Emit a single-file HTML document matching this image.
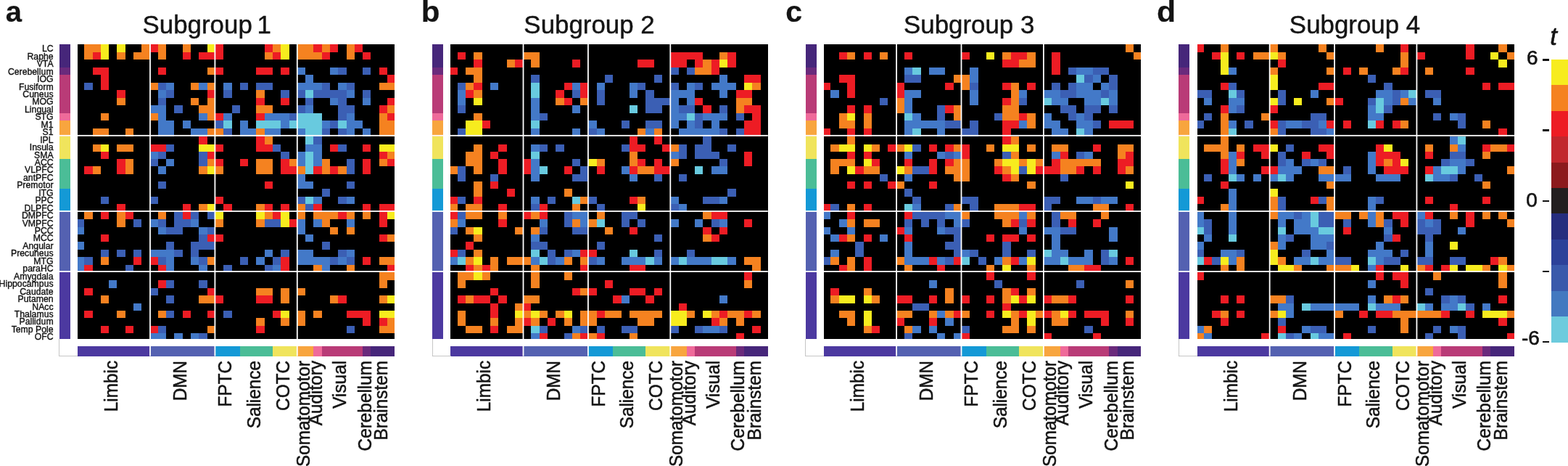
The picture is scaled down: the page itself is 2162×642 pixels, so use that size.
<!DOCTYPE html>
<html lang="en"><head><meta charset="utf-8"><title>Subgroup connectivity heatmaps</title>
<style>
html,body{margin:0;padding:0;background:#fff;overflow:hidden;}
svg{display:block;}
text{font-family:"Liberation Sans",Arial,Helvetica,sans-serif;fill:#141414;stroke:#141414;stroke-width:0.4px;stroke-linejoin:round;}
.ti{stroke-width:0.45px;}
.cl{stroke-width:0.55px;}
.rl{stroke-width:0.42px;}
.cb,.cbt{stroke-width:0.6px;}
.pl{stroke-width:0.2px;}
.pl{font-weight:bold;font-size:40.5px;}
.ti{font-size:35px;}
.t1{word-spacing:-3px;}
.rl{font-size:13.7px;}
.cl{font-size:25.7px;}
.cb{font-size:28px;}
.cbt{font-size:35px;font-style:italic;}
.Y{fill:#f7ec1e}.O{fill:#f58220}.R{fill:#ed1c24}.D{fill:#c1272d}.b{fill:#3b5fb4}.B{fill:#4379c8}.C{fill:#68cadf}</style></head>
<body>
<svg width="2162" height="642" viewBox="0 0 2162 642" shape-rendering="crispEdges">
<rect width="2162" height="642" fill="#fff"/>
<g id="panel-a">
<text class="pl" transform="translate(7.8 30) scale(0.99 1)">a</text>
<text class="ti t1" transform="translate(285.2 46.3) scale(0.997 1)" text-anchor="middle">Subgroup 1</text>
<rect x="81.5" y="61" width="15" height="31.53" fill="#46267a"/>
<rect x="81.5" y="92.53" width="15" height="10.51" fill="#6a2a7c"/>
<rect x="81.5" y="103.04" width="15" height="52.55" fill="#b93b77"/>
<rect x="81.5" y="155.59" width="15" height="10.51" fill="#ef6a9a"/>
<rect x="81.5" y="166.1" width="15" height="21.4" fill="#f8a53e"/>
<rect x="81.5" y="187.5" width="15" height="31.62" fill="#f0e45c"/>
<rect x="81.5" y="219.12" width="15" height="41.24" fill="#4bbd97"/>
<rect x="81.5" y="260.36" width="15" height="31.29" fill="#1499d6"/>
<rect x="81.5" y="291.65" width="15" height="83.25" fill="#5461b1"/>
<rect x="81.5" y="374.9" width="15" height="91.8" fill="#4c39a0"/>
<rect x="106.9" y="477.3" width="99.71" height="13.2" fill="#4c39a0"/>
<rect x="206.61" y="477.3" width="90.32" height="13.2" fill="#5461b1"/>
<rect x="296.93" y="477.3" width="33.87" height="13.2" fill="#1499d6"/>
<rect x="330.8" y="477.3" width="45.16" height="13.2" fill="#4bbd97"/>
<rect x="375.96" y="477.3" width="33.87" height="13.2" fill="#f0e45c"/>
<rect x="409.83" y="477.3" width="22.58" height="13.2" fill="#f8a53e"/>
<rect x="432.41" y="477.3" width="11.29" height="13.2" fill="#ef6a9a"/>
<rect x="443.7" y="477.3" width="56.45" height="13.2" fill="#b93b77"/>
<rect x="500.15" y="477.3" width="11.29" height="13.2" fill="#6a2a7c"/>
<rect x="511.44" y="477.3" width="32.86" height="13.2" fill="#46267a"/>
<path d="M81.6 466.7V490.6H107" fill="none" stroke="#b8b8b8" stroke-width="0.8"/>
<rect x="106.9" y="60.8" width="437.4" height="405.9" fill="#000"/>
<rect class="O" x="116.29" y="61" width="22.58" height="10.51"/>
<rect class="Y" x="138.87" y="61" width="11.29" height="10.51"/>
<rect class="Y" x="161.45" y="61" width="11.29" height="10.51"/>
<rect class="O" x="195.32" y="61" width="11.29" height="10.51"/>
<rect class="R" x="206.61" y="61" width="11.29" height="10.51"/>
<rect class="O" x="217.9" y="61" width="11.29" height="10.51"/>
<rect class="O" x="251.77" y="61" width="11.29" height="10.51"/>
<rect class="Y" x="285.64" y="61" width="11.29" height="10.51"/>
<rect class="R" x="296.93" y="61" width="11.29" height="10.51"/>
<rect class="R" x="364.67" y="61" width="11.29" height="10.51"/>
<rect class="O" x="375.96" y="61" width="11.29" height="10.51"/>
<rect class="Y" x="387.25" y="61" width="11.29" height="10.51"/>
<rect class="O" x="409.83" y="61" width="22.58" height="10.51"/>
<rect class="R" x="432.41" y="61" width="11.29" height="10.51"/>
<rect class="O" x="443.7" y="61" width="11.29" height="10.51"/>
<rect class="R" x="454.99" y="61" width="11.29" height="10.51"/>
<rect class="O" x="477.57" y="61" width="11.29" height="10.51"/>
<rect class="R" x="488.86" y="61" width="11.29" height="10.51"/>
<rect class="O" x="116.29" y="71.51" width="11.29" height="10.51"/>
<rect class="R" x="127.58" y="71.51" width="11.29" height="10.51"/>
<rect class="Y" x="138.87" y="71.51" width="11.29" height="10.51"/>
<rect class="O" x="161.45" y="71.51" width="11.29" height="10.51"/>
<rect class="O" x="184.03" y="71.51" width="22.58" height="10.51"/>
<rect class="O" x="217.9" y="71.51" width="11.29" height="10.51"/>
<rect class="R" x="251.77" y="71.51" width="11.29" height="10.51"/>
<rect class="R" x="274.35" y="71.51" width="33.87" height="10.51"/>
<rect class="O" x="364.67" y="71.51" width="11.29" height="10.51"/>
<rect class="R" x="375.96" y="71.51" width="11.29" height="10.51"/>
<rect class="Y" x="387.25" y="71.51" width="11.29" height="10.51"/>
<rect class="O" x="409.83" y="71.51" width="33.87" height="10.51"/>
<rect class="R" x="443.7" y="71.51" width="11.29" height="10.51"/>
<rect class="O" x="477.57" y="71.51" width="11.29" height="10.51"/>
<rect class="R" x="500.15" y="71.51" width="11.29" height="10.51"/>
<rect class="R" x="127.58" y="92.53" width="22.58" height="10.51"/>
<rect class="R" x="217.9" y="92.53" width="11.29" height="10.51"/>
<rect class="O" x="285.64" y="92.53" width="11.29" height="10.51"/>
<rect class="R" x="296.93" y="92.53" width="11.29" height="10.51"/>
<rect class="R" x="353.38" y="92.53" width="22.58" height="10.51"/>
<rect class="R" x="387.25" y="92.53" width="11.29" height="10.51"/>
<rect class="B" x="409.83" y="92.53" width="11.29" height="10.51"/>
<rect class="B" x="454.99" y="92.53" width="11.29" height="10.51"/>
<rect class="b" x="466.28" y="92.53" width="11.29" height="10.51"/>
<rect class="b" x="500.15" y="92.53" width="11.29" height="10.51"/>
<rect class="R" x="522.73" y="92.53" width="11.29" height="10.51"/>
<rect class="R" x="138.87" y="103.04" width="11.29" height="10.51"/>
<rect class="B" x="421.12" y="103.04" width="11.29" height="10.51"/>
<rect class="R" x="534.02" y="103.04" width="10.28" height="10.51"/>
<rect class="b" x="116.29" y="113.55" width="11.29" height="10.51"/>
<rect class="R" x="138.87" y="113.55" width="11.29" height="10.51"/>
<rect class="O" x="206.61" y="113.55" width="11.29" height="10.51"/>
<rect class="b" x="217.9" y="113.55" width="11.29" height="10.51"/>
<rect class="B" x="229.19" y="113.55" width="11.29" height="10.51"/>
<rect class="O" x="263.06" y="113.55" width="11.29" height="10.51"/>
<rect class="B" x="274.35" y="113.55" width="11.29" height="10.51"/>
<rect class="O" x="285.64" y="113.55" width="11.29" height="10.51"/>
<rect class="B" x="308.22" y="113.55" width="11.29" height="10.51"/>
<rect class="b" x="330.8" y="113.55" width="11.29" height="10.51"/>
<rect class="b" x="353.38" y="113.55" width="22.58" height="10.51"/>
<rect class="B" x="409.83" y="113.55" width="33.87" height="10.51"/>
<rect class="b" x="443.7" y="113.55" width="11.29" height="10.51"/>
<rect class="B" x="466.28" y="113.55" width="11.29" height="10.51"/>
<rect class="b" x="477.57" y="113.55" width="11.29" height="10.51"/>
<rect class="O" x="522.73" y="113.55" width="21.57" height="10.51"/>
<rect class="R" x="161.45" y="124.06" width="11.29" height="10.51"/>
<rect class="B" x="217.9" y="124.06" width="11.29" height="10.51"/>
<rect class="b" x="229.19" y="124.06" width="11.29" height="10.51"/>
<rect class="R" x="285.64" y="124.06" width="11.29" height="10.51"/>
<rect class="b" x="308.22" y="124.06" width="11.29" height="10.51"/>
<rect class="O" x="353.38" y="124.06" width="11.29" height="10.51"/>
<rect class="b" x="387.25" y="124.06" width="11.29" height="10.51"/>
<rect class="b" x="409.83" y="124.06" width="11.29" height="10.51"/>
<rect class="C" x="421.12" y="124.06" width="11.29" height="10.51"/>
<rect class="b" x="432.41" y="124.06" width="45.16" height="10.51"/>
<rect class="B" x="477.57" y="124.06" width="11.29" height="10.51"/>
<rect class="b" x="500.15" y="124.06" width="11.29" height="10.51"/>
<rect class="O" x="161.45" y="134.57" width="11.29" height="10.51"/>
<rect class="b" x="217.9" y="134.57" width="11.29" height="10.51"/>
<rect class="O" x="263.06" y="134.57" width="11.29" height="10.51"/>
<rect class="O" x="285.64" y="134.57" width="11.29" height="10.51"/>
<rect class="R" x="353.38" y="134.57" width="11.29" height="10.51"/>
<rect class="R" x="387.25" y="134.57" width="11.29" height="10.51"/>
<rect class="b" x="421.12" y="134.57" width="11.29" height="10.51"/>
<rect class="B" x="454.99" y="134.57" width="11.29" height="10.51"/>
<rect class="b" x="466.28" y="134.57" width="11.29" height="10.51"/>
<rect class="B" x="500.15" y="134.57" width="11.29" height="10.51"/>
<rect class="R" x="534.02" y="134.57" width="10.28" height="10.51"/>
<rect class="B" x="206.61" y="145.08" width="22.58" height="10.51"/>
<rect class="b" x="240.48" y="145.08" width="11.29" height="10.51"/>
<rect class="O" x="274.35" y="145.08" width="22.58" height="10.51"/>
<rect class="b" x="319.51" y="145.08" width="11.29" height="10.51"/>
<rect class="O" x="353.38" y="145.08" width="22.58" height="10.51"/>
<rect class="b" x="409.83" y="145.08" width="11.29" height="10.51"/>
<rect class="B" x="421.12" y="145.08" width="11.29" height="10.51"/>
<rect class="b" x="466.28" y="145.08" width="22.58" height="10.51"/>
<rect class="R" x="522.73" y="145.08" width="11.29" height="10.51"/>
<rect class="O" x="534.02" y="145.08" width="10.28" height="10.51"/>
<rect class="O" x="138.87" y="155.59" width="11.29" height="10.51"/>
<rect class="O" x="206.61" y="155.59" width="11.29" height="10.51"/>
<rect class="B" x="217.9" y="155.59" width="11.29" height="10.51"/>
<rect class="B" x="274.35" y="155.59" width="11.29" height="10.51"/>
<rect class="O" x="285.64" y="155.59" width="11.29" height="10.51"/>
<rect class="R" x="296.93" y="155.59" width="11.29" height="10.51"/>
<rect class="B" x="308.22" y="155.59" width="11.29" height="10.51"/>
<rect class="R" x="353.38" y="155.59" width="11.29" height="10.51"/>
<rect class="B" x="364.67" y="155.59" width="33.87" height="10.51"/>
<rect class="b" x="398.54" y="155.59" width="11.29" height="10.51"/>
<rect class="C" x="409.83" y="155.59" width="33.87" height="10.51"/>
<rect class="b" x="466.28" y="155.59" width="11.29" height="10.51"/>
<rect class="B" x="477.57" y="155.59" width="11.29" height="10.51"/>
<rect class="O" x="522.73" y="155.59" width="11.29" height="10.51"/>
<rect class="R" x="534.02" y="155.59" width="10.28" height="10.51"/>
<rect class="B" x="217.9" y="166.1" width="22.58" height="10.51"/>
<rect class="B" x="251.77" y="166.1" width="11.29" height="10.51"/>
<rect class="b" x="296.93" y="166.1" width="11.29" height="10.51"/>
<rect class="C" x="308.22" y="166.1" width="11.29" height="10.51"/>
<rect class="B" x="330.8" y="166.1" width="11.29" height="10.51"/>
<rect class="C" x="353.38" y="166.1" width="33.87" height="10.51"/>
<rect class="B" x="387.25" y="166.1" width="11.29" height="10.51"/>
<rect class="C" x="398.54" y="166.1" width="45.16" height="10.51"/>
<rect class="B" x="443.7" y="166.1" width="11.29" height="10.51"/>
<rect class="b" x="454.99" y="166.1" width="11.29" height="10.51"/>
<rect class="C" x="466.28" y="166.1" width="11.29" height="10.51"/>
<rect class="B" x="477.57" y="166.1" width="22.58" height="10.51"/>
<rect class="O" x="522.73" y="166.1" width="21.57" height="10.51"/>
<rect class="O" x="127.58" y="176.61" width="22.58" height="10.89"/>
<rect class="O" x="172.74" y="176.61" width="11.29" height="10.89"/>
<rect class="B" x="217.9" y="176.61" width="22.58" height="10.89"/>
<rect class="B" x="263.06" y="176.61" width="22.58" height="10.89"/>
<rect class="O" x="285.64" y="176.61" width="22.58" height="10.89"/>
<rect class="b" x="308.22" y="176.61" width="11.29" height="10.89"/>
<rect class="B" x="330.8" y="176.61" width="22.58" height="10.89"/>
<rect class="O" x="353.38" y="176.61" width="11.29" height="10.89"/>
<rect class="B" x="364.67" y="176.61" width="22.58" height="10.89"/>
<rect class="B" x="409.83" y="176.61" width="11.29" height="10.89"/>
<rect class="C" x="421.12" y="176.61" width="22.58" height="10.89"/>
<rect class="b" x="443.7" y="176.61" width="11.29" height="10.89"/>
<rect class="b" x="466.28" y="176.61" width="11.29" height="10.89"/>
<rect class="B" x="477.57" y="176.61" width="11.29" height="10.89"/>
<rect class="B" x="500.15" y="176.61" width="11.29" height="10.89"/>
<rect class="O" x="522.73" y="176.61" width="21.57" height="10.89"/>
<rect class="R" x="274.35" y="187.5" width="11.29" height="11"/>
<rect class="R" x="353.38" y="187.5" width="11.29" height="11"/>
<rect class="O" x="364.67" y="187.5" width="11.29" height="11"/>
<rect class="C" x="421.12" y="187.5" width="11.29" height="11"/>
<rect class="b" x="432.41" y="187.5" width="11.29" height="11"/>
<rect class="O" x="127.58" y="198.5" width="11.29" height="10.31"/>
<rect class="Y" x="138.87" y="198.5" width="11.29" height="10.31"/>
<rect class="O" x="161.45" y="198.5" width="22.58" height="10.31"/>
<rect class="R" x="206.61" y="198.5" width="22.58" height="10.31"/>
<rect class="b" x="229.19" y="198.5" width="11.29" height="10.31"/>
<rect class="Y" x="274.35" y="198.5" width="22.58" height="10.31"/>
<rect class="R" x="296.93" y="198.5" width="11.29" height="10.31"/>
<rect class="R" x="353.38" y="198.5" width="22.58" height="10.31"/>
<rect class="b" x="375.96" y="198.5" width="11.29" height="10.31"/>
<rect class="B" x="421.12" y="198.5" width="22.58" height="10.31"/>
<rect class="R" x="454.99" y="198.5" width="11.29" height="10.31"/>
<rect class="b" x="466.28" y="198.5" width="11.29" height="10.31"/>
<rect class="R" x="500.15" y="198.5" width="11.29" height="10.31"/>
<rect class="Y" x="522.73" y="198.5" width="21.57" height="10.31"/>
<rect class="R" x="138.87" y="208.81" width="11.29" height="10.31"/>
<rect class="B" x="206.61" y="208.81" width="11.29" height="10.31"/>
<rect class="b" x="217.9" y="208.81" width="11.29" height="10.31"/>
<rect class="b" x="274.35" y="208.81" width="11.29" height="10.31"/>
<rect class="R" x="285.64" y="208.81" width="11.29" height="10.31"/>
<rect class="b" x="387.25" y="208.81" width="11.29" height="10.31"/>
<rect class="B" x="409.83" y="208.81" width="11.29" height="10.31"/>
<rect class="C" x="421.12" y="208.81" width="11.29" height="10.31"/>
<rect class="B" x="432.41" y="208.81" width="11.29" height="10.31"/>
<rect class="R" x="522.73" y="208.81" width="11.29" height="10.31"/>
<rect class="O" x="534.02" y="208.81" width="10.28" height="10.31"/>
<rect class="R" x="161.45" y="219.12" width="11.29" height="10.31"/>
<rect class="O" x="172.74" y="219.12" width="11.29" height="10.31"/>
<rect class="b" x="206.61" y="219.12" width="11.29" height="10.31"/>
<rect class="B" x="229.19" y="219.12" width="11.29" height="10.31"/>
<rect class="b" x="274.35" y="219.12" width="11.29" height="10.31"/>
<rect class="O" x="285.64" y="219.12" width="11.29" height="10.31"/>
<rect class="R" x="296.93" y="219.12" width="11.29" height="10.31"/>
<rect class="R" x="330.8" y="219.12" width="11.29" height="10.31"/>
<rect class="O" x="353.38" y="219.12" width="22.58" height="10.31"/>
<rect class="R" x="387.25" y="219.12" width="11.29" height="10.31"/>
<rect class="O" x="398.54" y="219.12" width="11.29" height="10.31"/>
<rect class="B" x="409.83" y="219.12" width="11.29" height="10.31"/>
<rect class="C" x="421.12" y="219.12" width="11.29" height="10.31"/>
<rect class="B" x="432.41" y="219.12" width="11.29" height="10.31"/>
<rect class="O" x="443.7" y="219.12" width="11.29" height="10.31"/>
<rect class="b" x="477.57" y="219.12" width="11.29" height="10.31"/>
<rect class="R" x="500.15" y="219.12" width="11.29" height="10.31"/>
<rect class="O" x="522.73" y="219.12" width="11.29" height="10.31"/>
<rect class="R" x="534.02" y="219.12" width="10.28" height="10.31"/>
<rect class="R" x="116.29" y="229.43" width="11.29" height="10.31"/>
<rect class="O" x="127.58" y="229.43" width="11.29" height="10.31"/>
<rect class="R" x="161.45" y="229.43" width="11.29" height="10.31"/>
<rect class="O" x="172.74" y="229.43" width="11.29" height="10.31"/>
<rect class="B" x="217.9" y="229.43" width="11.29" height="10.31"/>
<rect class="O" x="274.35" y="229.43" width="11.29" height="10.31"/>
<rect class="Y" x="285.64" y="229.43" width="11.29" height="10.31"/>
<rect class="O" x="296.93" y="229.43" width="11.29" height="10.31"/>
<rect class="O" x="353.38" y="229.43" width="22.58" height="10.31"/>
<rect class="R" x="387.25" y="229.43" width="22.58" height="10.31"/>
<rect class="O" x="409.83" y="229.43" width="11.29" height="10.31"/>
<rect class="C" x="421.12" y="229.43" width="11.29" height="10.31"/>
<rect class="R" x="432.41" y="229.43" width="11.29" height="10.31"/>
<rect class="O" x="443.7" y="229.43" width="11.29" height="10.31"/>
<rect class="R" x="454.99" y="229.43" width="11.29" height="10.31"/>
<rect class="O" x="466.28" y="229.43" width="11.29" height="10.31"/>
<rect class="b" x="477.57" y="229.43" width="11.29" height="10.31"/>
<rect class="R" x="500.15" y="229.43" width="11.29" height="10.31"/>
<rect class="B" x="409.83" y="239.74" width="11.29" height="10.31"/>
<rect class="b" x="217.9" y="250.05" width="11.29" height="10.31"/>
<rect class="R" x="364.67" y="250.05" width="11.29" height="10.31"/>
<rect class="B" x="409.83" y="250.05" width="22.58" height="10.31"/>
<rect class="b" x="477.57" y="250.05" width="11.29" height="10.31"/>
<rect class="b" x="443.7" y="260.36" width="11.29" height="10.31"/>
<rect class="b" x="138.87" y="270.67" width="11.29" height="10.31"/>
<rect class="b" x="206.61" y="270.67" width="11.29" height="10.31"/>
<rect class="R" x="296.93" y="270.67" width="11.29" height="10.31"/>
<rect class="b" x="409.83" y="270.67" width="11.29" height="10.31"/>
<rect class="C" x="421.12" y="270.67" width="11.29" height="10.31"/>
<rect class="B" x="432.41" y="270.67" width="11.29" height="10.31"/>
<rect class="b" x="466.28" y="270.67" width="11.29" height="10.31"/>
<rect class="B" x="477.57" y="270.67" width="11.29" height="10.31"/>
<rect class="R" x="161.45" y="280.98" width="11.29" height="10.67"/>
<rect class="R" x="251.77" y="280.98" width="11.29" height="10.67"/>
<rect class="O" x="274.35" y="280.98" width="11.29" height="10.67"/>
<rect class="Y" x="285.64" y="280.98" width="11.29" height="10.67"/>
<rect class="R" x="308.22" y="280.98" width="11.29" height="10.67"/>
<rect class="O" x="353.38" y="280.98" width="11.29" height="10.67"/>
<rect class="R" x="364.67" y="280.98" width="11.29" height="10.67"/>
<rect class="R" x="387.25" y="280.98" width="11.29" height="10.67"/>
<rect class="O" x="409.83" y="280.98" width="11.29" height="10.67"/>
<rect class="b" x="421.12" y="280.98" width="11.29" height="10.67"/>
<rect class="R" x="432.41" y="280.98" width="11.29" height="10.67"/>
<rect class="R" x="500.15" y="280.98" width="11.29" height="10.67"/>
<rect class="R" x="522.73" y="280.98" width="21.57" height="10.67"/>
<rect class="O" x="116.29" y="291.65" width="11.29" height="10.45"/>
<rect class="R" x="138.87" y="291.65" width="11.29" height="10.45"/>
<rect class="O" x="161.45" y="291.65" width="11.29" height="10.45"/>
<rect class="R" x="172.74" y="291.65" width="11.29" height="10.45"/>
<rect class="O" x="217.9" y="291.65" width="11.29" height="10.45"/>
<rect class="b" x="240.48" y="291.65" width="11.29" height="10.45"/>
<rect class="R" x="251.77" y="291.65" width="11.29" height="10.45"/>
<rect class="b" x="263.06" y="291.65" width="11.29" height="10.45"/>
<rect class="b" x="285.64" y="291.65" width="11.29" height="10.45"/>
<rect class="Y" x="296.93" y="291.65" width="11.29" height="10.45"/>
<rect class="Y" x="353.38" y="291.65" width="11.29" height="10.45"/>
<rect class="O" x="364.67" y="291.65" width="11.29" height="10.45"/>
<rect class="R" x="375.96" y="291.65" width="11.29" height="10.45"/>
<rect class="Y" x="387.25" y="291.65" width="11.29" height="10.45"/>
<rect class="O" x="409.83" y="291.65" width="11.29" height="10.45"/>
<rect class="O" x="432.41" y="291.65" width="33.87" height="10.45"/>
<rect class="R" x="466.28" y="291.65" width="11.29" height="10.45"/>
<rect class="O" x="477.57" y="291.65" width="11.29" height="10.45"/>
<rect class="O" x="500.15" y="291.65" width="11.29" height="10.45"/>
<rect class="R" x="522.73" y="291.65" width="11.29" height="10.45"/>
<rect class="Y" x="534.02" y="291.65" width="10.28" height="10.45"/>
<rect class="b" x="106.9" y="302.1" width="9.39" height="10.45"/>
<rect class="O" x="161.45" y="302.1" width="11.29" height="10.45"/>
<rect class="b" x="184.03" y="302.1" width="11.29" height="10.45"/>
<rect class="B" x="206.61" y="302.1" width="11.29" height="10.45"/>
<rect class="b" x="217.9" y="302.1" width="11.29" height="10.45"/>
<rect class="b" x="240.48" y="302.1" width="22.58" height="10.45"/>
<rect class="B" x="263.06" y="302.1" width="11.29" height="10.45"/>
<rect class="O" x="296.93" y="302.1" width="11.29" height="10.45"/>
<rect class="O" x="353.38" y="302.1" width="11.29" height="10.45"/>
<rect class="b" x="364.67" y="302.1" width="22.58" height="10.45"/>
<rect class="Y" x="387.25" y="302.1" width="11.29" height="10.45"/>
<rect class="R" x="398.54" y="302.1" width="11.29" height="10.45"/>
<rect class="B" x="409.83" y="302.1" width="11.29" height="10.45"/>
<rect class="B" x="432.41" y="302.1" width="11.29" height="10.45"/>
<rect class="O" x="443.7" y="302.1" width="11.29" height="10.45"/>
<rect class="B" x="477.57" y="302.1" width="11.29" height="10.45"/>
<rect class="R" x="522.73" y="302.1" width="11.29" height="10.45"/>
<rect class="B" x="106.9" y="312.55" width="9.39" height="10.45"/>
<rect class="B" x="217.9" y="312.55" width="11.29" height="10.45"/>
<rect class="b" x="229.19" y="312.55" width="22.58" height="10.45"/>
<rect class="B" x="274.35" y="312.55" width="11.29" height="10.45"/>
<rect class="b" x="285.64" y="312.55" width="11.29" height="10.45"/>
<rect class="B" x="409.83" y="312.55" width="11.29" height="10.45"/>
<rect class="O" x="454.99" y="312.55" width="11.29" height="10.45"/>
<rect class="O" x="477.57" y="312.55" width="11.29" height="10.45"/>
<rect class="R" x="138.87" y="323" width="11.29" height="10.45"/>
<rect class="b" x="274.35" y="323" width="11.29" height="10.45"/>
<rect class="R" x="285.64" y="323" width="22.58" height="10.45"/>
<rect class="B" x="421.12" y="323" width="11.29" height="10.45"/>
<rect class="R" x="522.73" y="323" width="11.29" height="10.45"/>
<rect class="O" x="534.02" y="323" width="10.28" height="10.45"/>
<rect class="B" x="106.9" y="333.45" width="9.39" height="10.45"/>
<rect class="b" x="229.19" y="333.45" width="11.29" height="10.45"/>
<rect class="b" x="263.06" y="333.45" width="33.87" height="10.45"/>
<rect class="b" x="443.7" y="333.45" width="11.29" height="10.45"/>
<rect class="b" x="138.87" y="343.9" width="11.29" height="10.45"/>
<rect class="b" x="161.45" y="343.9" width="11.29" height="10.45"/>
<rect class="b" x="184.03" y="343.9" width="11.29" height="10.45"/>
<rect class="B" x="206.61" y="343.9" width="33.87" height="10.45"/>
<rect class="b" x="240.48" y="343.9" width="11.29" height="10.45"/>
<rect class="b" x="263.06" y="343.9" width="11.29" height="10.45"/>
<rect class="B" x="364.67" y="343.9" width="11.29" height="10.45"/>
<rect class="b" x="387.25" y="343.9" width="11.29" height="10.45"/>
<rect class="B" x="409.83" y="343.9" width="22.58" height="10.45"/>
<rect class="b" x="466.28" y="343.9" width="11.29" height="10.45"/>
<rect class="B" x="477.57" y="343.9" width="11.29" height="10.45"/>
<rect class="B" x="106.9" y="354.35" width="9.39" height="10.45"/>
<rect class="b" x="116.29" y="354.35" width="11.29" height="10.45"/>
<rect class="O" x="138.87" y="354.35" width="11.29" height="10.45"/>
<rect class="R" x="184.03" y="354.35" width="11.29" height="10.45"/>
<rect class="R" x="206.61" y="354.35" width="11.29" height="10.45"/>
<rect class="b" x="217.9" y="354.35" width="11.29" height="10.45"/>
<rect class="B" x="229.19" y="354.35" width="11.29" height="10.45"/>
<rect class="B" x="263.06" y="354.35" width="11.29" height="10.45"/>
<rect class="b" x="274.35" y="354.35" width="11.29" height="10.45"/>
<rect class="O" x="285.64" y="354.35" width="11.29" height="10.45"/>
<rect class="b" x="330.8" y="354.35" width="11.29" height="10.45"/>
<rect class="B" x="353.38" y="354.35" width="11.29" height="10.45"/>
<rect class="b" x="375.96" y="354.35" width="11.29" height="10.45"/>
<rect class="R" x="387.25" y="354.35" width="11.29" height="10.45"/>
<rect class="B" x="409.83" y="354.35" width="45.16" height="10.45"/>
<rect class="b" x="454.99" y="354.35" width="11.29" height="10.45"/>
<rect class="B" x="466.28" y="354.35" width="11.29" height="10.45"/>
<rect class="b" x="477.57" y="354.35" width="11.29" height="10.45"/>
<rect class="R" x="500.15" y="354.35" width="11.29" height="10.45"/>
<rect class="O" x="522.73" y="354.35" width="21.57" height="10.45"/>
<rect class="B" x="106.9" y="364.8" width="9.39" height="10.1"/>
<rect class="R" x="116.29" y="364.8" width="11.29" height="10.1"/>
<rect class="b" x="172.74" y="364.8" width="11.29" height="10.1"/>
<rect class="R" x="217.9" y="364.8" width="11.29" height="10.1"/>
<rect class="B" x="229.19" y="364.8" width="11.29" height="10.1"/>
<rect class="B" x="274.35" y="364.8" width="11.29" height="10.1"/>
<rect class="b" x="308.22" y="364.8" width="11.29" height="10.1"/>
<rect class="b" x="364.67" y="364.8" width="11.29" height="10.1"/>
<rect class="B" x="375.96" y="364.8" width="11.29" height="10.1"/>
<rect class="R" x="387.25" y="364.8" width="11.29" height="10.1"/>
<rect class="O" x="432.41" y="364.8" width="11.29" height="10.1"/>
<rect class="B" x="443.7" y="364.8" width="11.29" height="10.1"/>
<rect class="O" x="477.57" y="364.8" width="11.29" height="10.1"/>
<rect class="R" x="534.02" y="364.8" width="10.28" height="10.1"/>
<rect class="O" x="522.73" y="374.9" width="21.57" height="11.42"/>
<rect class="B" x="150.16" y="386.32" width="11.29" height="10.42"/>
<rect class="R" x="217.9" y="386.32" width="11.29" height="10.42"/>
<rect class="b" x="229.19" y="386.32" width="11.29" height="10.42"/>
<rect class="b" x="274.35" y="386.32" width="11.29" height="10.42"/>
<rect class="O" x="522.73" y="386.32" width="11.29" height="10.42"/>
<rect class="R" x="116.29" y="396.74" width="11.29" height="10.42"/>
<rect class="b" x="206.61" y="396.74" width="11.29" height="10.42"/>
<rect class="R" x="285.64" y="396.74" width="11.29" height="10.42"/>
<rect class="O" x="353.38" y="396.74" width="22.58" height="10.42"/>
<rect class="O" x="387.25" y="396.74" width="11.29" height="10.42"/>
<rect class="O" x="409.83" y="396.74" width="11.29" height="10.42"/>
<rect class="O" x="138.87" y="407.16" width="11.29" height="10.42"/>
<rect class="b" x="229.19" y="407.16" width="11.29" height="10.42"/>
<rect class="O" x="274.35" y="407.16" width="22.58" height="10.42"/>
<rect class="R" x="296.93" y="407.16" width="11.29" height="10.42"/>
<rect class="R" x="353.38" y="407.16" width="22.58" height="10.42"/>
<rect class="O" x="387.25" y="407.16" width="11.29" height="10.42"/>
<rect class="O" x="454.99" y="407.16" width="11.29" height="10.42"/>
<rect class="R" x="466.28" y="407.16" width="11.29" height="10.42"/>
<rect class="O" x="522.73" y="407.16" width="11.29" height="10.42"/>
<rect class="Y" x="534.02" y="407.16" width="10.28" height="10.42"/>
<rect class="B" x="184.03" y="417.58" width="11.29" height="10.42"/>
<rect class="R" x="116.29" y="428" width="11.29" height="10.42"/>
<rect class="O" x="161.45" y="428" width="11.29" height="10.42"/>
<rect class="O" x="217.9" y="428" width="11.29" height="10.42"/>
<rect class="b" x="229.19" y="428" width="11.29" height="10.42"/>
<rect class="R" x="251.77" y="428" width="11.29" height="10.42"/>
<rect class="R" x="285.64" y="428" width="11.29" height="10.42"/>
<rect class="b" x="308.22" y="428" width="11.29" height="10.42"/>
<rect class="R" x="375.96" y="428" width="11.29" height="10.42"/>
<rect class="Y" x="387.25" y="428" width="11.29" height="10.42"/>
<rect class="O" x="409.83" y="428" width="11.29" height="10.42"/>
<rect class="O" x="432.41" y="428" width="11.29" height="10.42"/>
<rect class="R" x="477.57" y="428" width="33.87" height="10.42"/>
<rect class="Y" x="522.73" y="428" width="21.57" height="10.42"/>
<rect class="O" x="353.38" y="438.42" width="11.29" height="10.42"/>
<rect class="O" x="387.25" y="438.42" width="11.29" height="10.42"/>
<rect class="O" x="409.83" y="438.42" width="11.29" height="10.42"/>
<rect class="R" x="500.15" y="438.42" width="11.29" height="10.42"/>
<rect class="R" x="522.73" y="438.42" width="11.29" height="10.42"/>
<rect class="O" x="534.02" y="438.42" width="10.28" height="10.42"/>
<rect class="R" x="138.87" y="448.84" width="11.29" height="10.42"/>
<rect class="R" x="172.74" y="448.84" width="11.29" height="10.42"/>
<rect class="R" x="206.61" y="448.84" width="11.29" height="10.42"/>
<rect class="b" x="217.9" y="448.84" width="11.29" height="10.42"/>
<rect class="O" x="285.64" y="448.84" width="11.29" height="10.42"/>
<rect class="R" x="353.38" y="448.84" width="11.29" height="10.42"/>
<rect class="b" x="477.57" y="448.84" width="11.29" height="10.42"/>
<rect class="O" x="522.73" y="448.84" width="21.57" height="10.42"/>
<rect class="B" x="206.61" y="459.26" width="22.58" height="7.44"/>
<rect class="B" x="240.48" y="459.26" width="11.29" height="7.44"/>
<rect class="B" x="263.06" y="459.26" width="11.29" height="7.44"/>
<rect class="b" x="274.35" y="459.26" width="11.29" height="7.44"/>
<rect x="206.1" y="60.8" width="1.8" height="429.8" fill="#fff" shape-rendering="geometricPrecision"/>
<rect x="295.5" y="60.8" width="1.8" height="429.8" fill="#fff" shape-rendering="geometricPrecision"/>
<rect x="408.9" y="60.8" width="1.8" height="429.8" fill="#fff" shape-rendering="geometricPrecision"/>
<rect x="81.6" y="185.9" width="462.7" height="1.8" fill="#fff" shape-rendering="geometricPrecision"/>
<rect x="81.6" y="290.1" width="462.7" height="1.8" fill="#fff" shape-rendering="geometricPrecision"/>
<rect x="81.6" y="373.15" width="462.7" height="1.8" fill="#fff" shape-rendering="geometricPrecision"/>
<text class="rl" transform="translate(73.6 71.3) scale(0.895 1)" text-anchor="end">LC</text>
<text class="rl" transform="translate(73.6 81.75) scale(0.895 1)" text-anchor="end">Raphe</text>
<text class="rl" transform="translate(73.6 92.19) scale(0.895 1)" text-anchor="end">VTA</text>
<text class="rl" transform="translate(73.6 102.64) scale(0.895 1)" text-anchor="end">Cerebellum</text>
<text class="rl" transform="translate(73.6 113.09) scale(0.895 1)" text-anchor="end">IOG</text>
<text class="rl" transform="translate(73.6 123.53) scale(0.895 1)" text-anchor="end">Fusiform</text>
<text class="rl" transform="translate(73.6 133.98) scale(0.895 1)" text-anchor="end">Cuneus</text>
<text class="rl" transform="translate(73.6 144.43) scale(0.895 1)" text-anchor="end">MOG</text>
<text class="rl" transform="translate(73.6 154.88) scale(0.895 1)" text-anchor="end">Lingual</text>
<text class="rl" transform="translate(73.6 165.32) scale(0.895 1)" text-anchor="end">STG</text>
<text class="rl" transform="translate(73.6 175.77) scale(0.895 1)" text-anchor="end">M1</text>
<text class="rl" transform="translate(73.6 186.22) scale(0.895 1)" text-anchor="end">S1</text>
<text class="rl" transform="translate(73.6 196.66) scale(0.895 1)" text-anchor="end">IPL</text>
<text class="rl" transform="translate(73.6 207.11) scale(0.895 1)" text-anchor="end">Insula</text>
<text class="rl" transform="translate(73.6 217.56) scale(0.895 1)" text-anchor="end">SMA</text>
<text class="rl" transform="translate(73.6 228) scale(0.895 1)" text-anchor="end">ACC</text>
<text class="rl" transform="translate(73.6 238.45) scale(0.895 1)" text-anchor="end">VLPFC</text>
<text class="rl" transform="translate(73.6 248.9) scale(0.895 1)" text-anchor="end">antPFC</text>
<text class="rl" transform="translate(73.6 259.35) scale(0.895 1)" text-anchor="end">Premotor</text>
<text class="rl" transform="translate(73.6 269.79) scale(0.895 1)" text-anchor="end">ITG</text>
<text class="rl" transform="translate(73.6 280.24) scale(0.895 1)" text-anchor="end">PPC</text>
<text class="rl" transform="translate(73.6 290.69) scale(0.895 1)" text-anchor="end">DLPFC</text>
<text class="rl" transform="translate(73.6 301.13) scale(0.895 1)" text-anchor="end">DMPFC</text>
<text class="rl" transform="translate(73.6 311.58) scale(0.895 1)" text-anchor="end">VMPFC</text>
<text class="rl" transform="translate(73.6 322.03) scale(0.895 1)" text-anchor="end">PCC</text>
<text class="rl" transform="translate(73.6 332.47) scale(0.895 1)" text-anchor="end">MCC</text>
<text class="rl" transform="translate(73.6 342.92) scale(0.895 1)" text-anchor="end">Angular</text>
<text class="rl" transform="translate(73.6 353.37) scale(0.895 1)" text-anchor="end">Precuneus</text>
<text class="rl" transform="translate(73.6 363.82) scale(0.895 1)" text-anchor="end">MTG</text>
<text class="rl" transform="translate(73.6 374.26) scale(0.895 1)" text-anchor="end">paraHC</text>
<text class="rl" transform="translate(73.6 384.71) scale(0.895 1)" text-anchor="end">Amygdala</text>
<text class="rl" transform="translate(73.6 395.16) scale(0.895 1)" text-anchor="end">Hippocampus</text>
<text class="rl" transform="translate(73.6 405.6) scale(0.895 1)" text-anchor="end">Caudate</text>
<text class="rl" transform="translate(73.6 416.05) scale(0.895 1)" text-anchor="end">Putamen</text>
<text class="rl" transform="translate(73.6 426.5) scale(0.895 1)" text-anchor="end">NAcc</text>
<text class="rl" transform="translate(73.6 436.94) scale(0.895 1)" text-anchor="end">Thalamus</text>
<text class="rl" transform="translate(73.6 447.39) scale(0.895 1)" text-anchor="end">Pallidum</text>
<text class="rl" transform="translate(73.6 457.84) scale(0.895 1)" text-anchor="end">Temp Pole</text>
<text class="rl" transform="translate(73.6 468.29) scale(0.895 1)" text-anchor="end">OFC</text>
<text class="cl" transform="translate(161.9 496.9) rotate(-90) scale(0.948 1)" text-anchor="end">Limbic</text>
<text class="cl" transform="translate(257.2 496.9) rotate(-90) scale(0.948 1)" text-anchor="end">DMN</text>
<text class="cl" transform="translate(319.3 496.9) rotate(-90) scale(0.948 1)" text-anchor="end">FPTC</text>
<text class="cl" transform="translate(358.6 496.9) rotate(-90) scale(0.948 1)" text-anchor="end">Salience</text>
<text class="cl" transform="translate(398.9 496.9) rotate(-90) scale(0.948 1)" text-anchor="end">COTC</text>
<text class="cl" transform="translate(426.6 496.9) rotate(-90) scale(0.948 1)" text-anchor="end">Somatomotor</text>
<text class="cl" transform="translate(444.2 496.9) rotate(-90) scale(0.948 1)" text-anchor="end">Auditory</text>
<text class="cl" transform="translate(477.2 496.9) rotate(-90) scale(0.948 1)" text-anchor="end">Visual</text>
<text class="cl" transform="translate(511.7 496.9) rotate(-90) scale(0.948 1)" text-anchor="end">Cerebellum</text>
<text class="cl" transform="translate(534.1 496.9) rotate(-90) scale(0.948 1)" text-anchor="end">Brainstem</text>
</g>
<g id="panel-b">
<text class="pl" transform="translate(580.8 30) scale(1.04 1)">b</text>
<text class="ti" transform="translate(812.55 46.3) scale(0.997 1)" text-anchor="middle">Subgroup 2</text>
<rect x="596" y="61" width="15" height="31.53" fill="#46267a"/>
<rect x="596" y="92.53" width="15" height="10.51" fill="#6a2a7c"/>
<rect x="596" y="103.04" width="15" height="52.55" fill="#b93b77"/>
<rect x="596" y="155.59" width="15" height="10.51" fill="#ef6a9a"/>
<rect x="596" y="166.1" width="15" height="21.4" fill="#f8a53e"/>
<rect x="596" y="187.5" width="15" height="31.62" fill="#f0e45c"/>
<rect x="596" y="219.12" width="15" height="41.24" fill="#4bbd97"/>
<rect x="596" y="260.36" width="15" height="31.29" fill="#1499d6"/>
<rect x="596" y="291.65" width="15" height="83.25" fill="#5461b1"/>
<rect x="596" y="374.9" width="15" height="91.8" fill="#4c39a0"/>
<rect x="621.4" y="477.3" width="99.71" height="13.2" fill="#4c39a0"/>
<rect x="721.11" y="477.3" width="90.32" height="13.2" fill="#5461b1"/>
<rect x="811.43" y="477.3" width="33.87" height="13.2" fill="#1499d6"/>
<rect x="845.3" y="477.3" width="45.16" height="13.2" fill="#4bbd97"/>
<rect x="890.46" y="477.3" width="33.87" height="13.2" fill="#f0e45c"/>
<rect x="924.33" y="477.3" width="22.58" height="13.2" fill="#f8a53e"/>
<rect x="946.91" y="477.3" width="11.29" height="13.2" fill="#ef6a9a"/>
<rect x="958.2" y="477.3" width="56.45" height="13.2" fill="#b93b77"/>
<rect x="1014.65" y="477.3" width="11.29" height="13.2" fill="#6a2a7c"/>
<rect x="1025.94" y="477.3" width="32.86" height="13.2" fill="#46267a"/>
<path d="M596.1 466.7V490.6H621.5" fill="none" stroke="#b8b8b8" stroke-width="0.8"/>
<rect x="621.4" y="60.8" width="437.4" height="405.9" fill="#000"/>
<rect class="R" x="630.79" y="71.51" width="11.29" height="10.51"/>
<rect class="O" x="653.37" y="71.51" width="11.29" height="10.51"/>
<rect class="O" x="721.11" y="71.51" width="22.58" height="10.51"/>
<rect class="R" x="924.33" y="71.51" width="45.16" height="10.51"/>
<rect class="O" x="992.07" y="71.51" width="11.29" height="10.51"/>
<rect class="R" x="1003.36" y="71.51" width="11.29" height="10.51"/>
<rect class="R" x="653.37" y="82.02" width="11.29" height="10.51"/>
<rect class="O" x="698.53" y="82.02" width="11.29" height="10.51"/>
<rect class="R" x="709.82" y="82.02" width="11.29" height="10.51"/>
<rect class="O" x="732.4" y="82.02" width="11.29" height="10.51"/>
<rect class="R" x="788.85" y="82.02" width="11.29" height="10.51"/>
<rect class="R" x="879.17" y="82.02" width="22.58" height="10.51"/>
<rect class="R" x="924.33" y="82.02" width="22.58" height="10.51"/>
<rect class="R" x="958.2" y="82.02" width="11.29" height="10.51"/>
<rect class="O" x="969.49" y="82.02" width="11.29" height="10.51"/>
<rect class="R" x="980.78" y="82.02" width="11.29" height="10.51"/>
<rect class="Y" x="992.07" y="82.02" width="11.29" height="10.51"/>
<rect class="R" x="1003.36" y="82.02" width="11.29" height="10.51"/>
<rect class="R" x="621.4" y="92.53" width="9.39" height="10.51"/>
<rect class="O" x="642.08" y="92.53" width="22.58" height="10.51"/>
<rect class="b" x="924.33" y="92.53" width="11.29" height="10.51"/>
<rect class="b" x="946.91" y="92.53" width="11.29" height="10.51"/>
<rect class="O" x="958.2" y="92.53" width="22.58" height="10.51"/>
<rect class="R" x="980.78" y="92.53" width="11.29" height="10.51"/>
<rect class="O" x="653.37" y="103.04" width="11.29" height="10.51"/>
<rect class="b" x="732.4" y="103.04" width="11.29" height="10.51"/>
<rect class="b" x="834.01" y="103.04" width="11.29" height="10.51"/>
<rect class="b" x="901.75" y="103.04" width="11.29" height="10.51"/>
<rect class="B" x="992.07" y="103.04" width="11.29" height="10.51"/>
<rect class="R" x="1025.94" y="103.04" width="22.58" height="10.51"/>
<rect class="b" x="630.79" y="113.55" width="11.29" height="10.51"/>
<rect class="O" x="642.08" y="113.55" width="11.29" height="10.51"/>
<rect class="R" x="653.37" y="113.55" width="11.29" height="10.51"/>
<rect class="B" x="675.95" y="113.55" width="11.29" height="10.51"/>
<rect class="C" x="732.4" y="113.55" width="11.29" height="10.51"/>
<rect class="R" x="777.56" y="113.55" width="11.29" height="10.51"/>
<rect class="B" x="788.85" y="113.55" width="11.29" height="10.51"/>
<rect class="R" x="800.14" y="113.55" width="11.29" height="10.51"/>
<rect class="B" x="822.72" y="113.55" width="11.29" height="10.51"/>
<rect class="B" x="867.88" y="113.55" width="11.29" height="10.51"/>
<rect class="b" x="879.17" y="113.55" width="11.29" height="10.51"/>
<rect class="b" x="924.33" y="113.55" width="11.29" height="10.51"/>
<rect class="B" x="946.91" y="113.55" width="11.29" height="10.51"/>
<rect class="b" x="958.2" y="113.55" width="11.29" height="10.51"/>
<rect class="B" x="980.78" y="113.55" width="33.87" height="10.51"/>
<rect class="Y" x="1025.94" y="113.55" width="11.29" height="10.51"/>
<rect class="O" x="1037.23" y="113.55" width="11.29" height="10.51"/>
<rect class="B" x="630.79" y="124.06" width="11.29" height="10.51"/>
<rect class="R" x="642.08" y="124.06" width="11.29" height="10.51"/>
<rect class="O" x="653.37" y="124.06" width="11.29" height="10.51"/>
<rect class="C" x="732.4" y="124.06" width="11.29" height="10.51"/>
<rect class="R" x="766.27" y="124.06" width="11.29" height="10.51"/>
<rect class="b" x="788.85" y="124.06" width="11.29" height="10.51"/>
<rect class="R" x="800.14" y="124.06" width="11.29" height="10.51"/>
<rect class="b" x="822.72" y="124.06" width="11.29" height="10.51"/>
<rect class="B" x="867.88" y="124.06" width="11.29" height="10.51"/>
<rect class="b" x="890.46" y="124.06" width="11.29" height="10.51"/>
<rect class="B" x="924.33" y="124.06" width="33.87" height="10.51"/>
<rect class="B" x="992.07" y="124.06" width="11.29" height="10.51"/>
<rect class="R" x="1014.65" y="124.06" width="22.58" height="10.51"/>
<rect class="B" x="630.79" y="134.57" width="11.29" height="10.51"/>
<rect class="Y" x="653.37" y="134.57" width="11.29" height="10.51"/>
<rect class="B" x="732.4" y="134.57" width="11.29" height="10.51"/>
<rect class="O" x="766.27" y="134.57" width="11.29" height="10.51"/>
<rect class="R" x="777.56" y="134.57" width="11.29" height="10.51"/>
<rect class="O" x="800.14" y="134.57" width="11.29" height="10.51"/>
<rect class="b" x="822.72" y="134.57" width="11.29" height="10.51"/>
<rect class="b" x="890.46" y="134.57" width="33.87" height="10.51"/>
<rect class="B" x="924.33" y="134.57" width="11.29" height="10.51"/>
<rect class="B" x="946.91" y="134.57" width="11.29" height="10.51"/>
<rect class="R" x="958.2" y="134.57" width="11.29" height="10.51"/>
<rect class="O" x="1014.65" y="134.57" width="22.58" height="10.51"/>
<rect class="b" x="630.79" y="145.08" width="11.29" height="10.51"/>
<rect class="B" x="732.4" y="145.08" width="11.29" height="10.51"/>
<rect class="B" x="788.85" y="145.08" width="11.29" height="10.51"/>
<rect class="C" x="867.88" y="145.08" width="11.29" height="10.51"/>
<rect class="b" x="890.46" y="145.08" width="22.58" height="10.51"/>
<rect class="B" x="924.33" y="145.08" width="11.29" height="10.51"/>
<rect class="b" x="935.62" y="145.08" width="22.58" height="10.51"/>
<rect class="R" x="969.49" y="145.08" width="11.29" height="10.51"/>
<rect class="b" x="992.07" y="145.08" width="11.29" height="10.51"/>
<rect class="O" x="1014.65" y="145.08" width="11.29" height="10.51"/>
<rect class="R" x="1025.94" y="145.08" width="22.58" height="10.51"/>
<rect class="O" x="653.37" y="155.59" width="11.29" height="10.51"/>
<rect class="B" x="732.4" y="155.59" width="11.29" height="10.51"/>
<rect class="b" x="743.69" y="155.59" width="11.29" height="10.51"/>
<rect class="B" x="924.33" y="155.59" width="22.58" height="10.51"/>
<rect class="C" x="946.91" y="155.59" width="11.29" height="10.51"/>
<rect class="b" x="958.2" y="155.59" width="11.29" height="10.51"/>
<rect class="B" x="969.49" y="155.59" width="33.87" height="10.51"/>
<rect class="b" x="1014.65" y="155.59" width="11.29" height="10.51"/>
<rect class="R" x="1037.23" y="155.59" width="11.29" height="10.51"/>
<rect class="Y" x="642.08" y="166.1" width="22.58" height="10.51"/>
<rect class="R" x="664.66" y="166.1" width="11.29" height="10.51"/>
<rect class="C" x="732.4" y="166.1" width="11.29" height="10.51"/>
<rect class="B" x="811.43" y="166.1" width="11.29" height="10.51"/>
<rect class="b" x="856.59" y="166.1" width="11.29" height="10.51"/>
<rect class="b" x="890.46" y="166.1" width="22.58" height="10.51"/>
<rect class="B" x="924.33" y="166.1" width="11.29" height="10.51"/>
<rect class="B" x="946.91" y="166.1" width="11.29" height="10.51"/>
<rect class="b" x="958.2" y="166.1" width="11.29" height="10.51"/>
<rect class="B" x="980.78" y="166.1" width="11.29" height="10.51"/>
<rect class="R" x="1025.94" y="166.1" width="22.58" height="10.51"/>
<rect class="b" x="630.79" y="176.61" width="11.29" height="10.89"/>
<rect class="Y" x="642.08" y="176.61" width="22.58" height="10.89"/>
<rect class="B" x="732.4" y="176.61" width="11.29" height="10.89"/>
<rect class="B" x="788.85" y="176.61" width="11.29" height="10.89"/>
<rect class="b" x="811.43" y="176.61" width="11.29" height="10.89"/>
<rect class="B" x="822.72" y="176.61" width="11.29" height="10.89"/>
<rect class="O" x="879.17" y="176.61" width="11.29" height="10.89"/>
<rect class="B" x="890.46" y="176.61" width="11.29" height="10.89"/>
<rect class="O" x="901.75" y="176.61" width="11.29" height="10.89"/>
<rect class="B" x="935.62" y="176.61" width="56.45" height="10.89"/>
<rect class="b" x="992.07" y="176.61" width="11.29" height="10.89"/>
<rect class="b" x="1014.65" y="176.61" width="11.29" height="10.89"/>
<rect class="R" x="1025.94" y="176.61" width="22.58" height="10.89"/>
<rect class="R" x="867.88" y="187.5" width="11.29" height="11"/>
<rect class="R" x="901.75" y="187.5" width="11.29" height="11"/>
<rect class="b" x="969.49" y="187.5" width="11.29" height="11"/>
<rect class="O" x="653.37" y="198.5" width="11.29" height="10.31"/>
<rect class="R" x="687.24" y="198.5" width="11.29" height="10.31"/>
<rect class="B" x="732.4" y="198.5" width="11.29" height="10.31"/>
<rect class="b" x="743.69" y="198.5" width="11.29" height="10.31"/>
<rect class="b" x="766.27" y="198.5" width="11.29" height="10.31"/>
<rect class="b" x="856.59" y="198.5" width="11.29" height="10.31"/>
<rect class="R" x="867.88" y="198.5" width="22.58" height="10.31"/>
<rect class="R" x="913.04" y="198.5" width="11.29" height="10.31"/>
<rect class="O" x="924.33" y="198.5" width="11.29" height="10.31"/>
<rect class="b" x="935.62" y="198.5" width="11.29" height="10.31"/>
<rect class="b" x="958.2" y="198.5" width="22.58" height="10.31"/>
<rect class="b" x="1003.36" y="198.5" width="11.29" height="10.31"/>
<rect class="O" x="642.08" y="208.81" width="22.58" height="10.31"/>
<rect class="R" x="675.95" y="208.81" width="11.29" height="10.31"/>
<rect class="C" x="732.4" y="208.81" width="11.29" height="10.31"/>
<rect class="O" x="867.88" y="208.81" width="11.29" height="10.31"/>
<rect class="B" x="924.33" y="208.81" width="11.29" height="10.31"/>
<rect class="b" x="935.62" y="208.81" width="11.29" height="10.31"/>
<rect class="b" x="958.2" y="208.81" width="33.87" height="10.31"/>
<rect class="R" x="1025.94" y="208.81" width="11.29" height="10.31"/>
<rect class="O" x="642.08" y="219.12" width="22.58" height="10.31"/>
<rect class="R" x="687.24" y="219.12" width="11.29" height="10.31"/>
<rect class="R" x="721.11" y="219.12" width="11.29" height="10.31"/>
<rect class="B" x="732.4" y="219.12" width="11.29" height="10.31"/>
<rect class="b" x="788.85" y="219.12" width="11.29" height="10.31"/>
<rect class="Y" x="811.43" y="219.12" width="11.29" height="10.31"/>
<rect class="O" x="822.72" y="219.12" width="11.29" height="10.31"/>
<rect class="O" x="867.88" y="219.12" width="11.29" height="10.31"/>
<rect class="R" x="879.17" y="219.12" width="11.29" height="10.31"/>
<rect class="R" x="901.75" y="219.12" width="11.29" height="10.31"/>
<rect class="O" x="924.33" y="219.12" width="11.29" height="10.31"/>
<rect class="b" x="992.07" y="219.12" width="11.29" height="10.31"/>
<rect class="R" x="1025.94" y="219.12" width="11.29" height="10.31"/>
<rect class="O" x="621.4" y="229.43" width="9.39" height="10.31"/>
<rect class="b" x="630.79" y="229.43" width="11.29" height="10.31"/>
<rect class="O" x="653.37" y="229.43" width="11.29" height="10.31"/>
<rect class="R" x="687.24" y="229.43" width="11.29" height="10.31"/>
<rect class="R" x="721.11" y="229.43" width="11.29" height="10.31"/>
<rect class="B" x="732.4" y="229.43" width="11.29" height="10.31"/>
<rect class="C" x="743.69" y="229.43" width="11.29" height="10.31"/>
<rect class="R" x="777.56" y="229.43" width="11.29" height="10.31"/>
<rect class="b" x="800.14" y="229.43" width="11.29" height="10.31"/>
<rect class="R" x="822.72" y="229.43" width="11.29" height="10.31"/>
<rect class="B" x="856.59" y="229.43" width="11.29" height="10.31"/>
<rect class="R" x="867.88" y="229.43" width="11.29" height="10.31"/>
<rect class="O" x="879.17" y="229.43" width="22.58" height="10.31"/>
<rect class="R" x="901.75" y="229.43" width="22.58" height="10.31"/>
<rect class="C" x="958.2" y="229.43" width="11.29" height="10.31"/>
<rect class="B" x="980.78" y="229.43" width="22.58" height="10.31"/>
<rect class="b" x="630.79" y="239.74" width="11.29" height="10.31"/>
<rect class="b" x="675.95" y="239.74" width="11.29" height="10.31"/>
<rect class="B" x="732.4" y="239.74" width="11.29" height="10.31"/>
<rect class="b" x="788.85" y="239.74" width="22.58" height="10.31"/>
<rect class="B" x="867.88" y="239.74" width="11.29" height="10.31"/>
<rect class="b" x="901.75" y="239.74" width="11.29" height="10.31"/>
<rect class="b" x="935.62" y="239.74" width="11.29" height="10.31"/>
<rect class="O" x="653.37" y="250.05" width="11.29" height="10.31"/>
<rect class="R" x="675.95" y="250.05" width="11.29" height="10.31"/>
<rect class="O" x="653.37" y="260.36" width="11.29" height="10.31"/>
<rect class="R" x="698.53" y="260.36" width="11.29" height="10.31"/>
<rect class="O" x="777.56" y="260.36" width="11.29" height="10.31"/>
<rect class="b" x="1003.36" y="260.36" width="11.29" height="10.31"/>
<rect class="R" x="621.4" y="270.67" width="9.39" height="10.31"/>
<rect class="b" x="630.79" y="270.67" width="11.29" height="10.31"/>
<rect class="R" x="653.37" y="270.67" width="11.29" height="10.31"/>
<rect class="B" x="732.4" y="270.67" width="11.29" height="10.31"/>
<rect class="b" x="754.98" y="270.67" width="11.29" height="10.31"/>
<rect class="C" x="788.85" y="270.67" width="11.29" height="10.31"/>
<rect class="O" x="800.14" y="270.67" width="11.29" height="10.31"/>
<rect class="b" x="811.43" y="270.67" width="11.29" height="10.31"/>
<rect class="R" x="867.88" y="270.67" width="11.29" height="10.31"/>
<rect class="O" x="879.17" y="270.67" width="11.29" height="10.31"/>
<rect class="B" x="924.33" y="270.67" width="11.29" height="10.31"/>
<rect class="b" x="969.49" y="270.67" width="22.58" height="10.31"/>
<rect class="B" x="992.07" y="270.67" width="11.29" height="10.31"/>
<rect class="O" x="621.4" y="280.98" width="9.39" height="10.67"/>
<rect class="O" x="642.08" y="280.98" width="22.58" height="10.67"/>
<rect class="R" x="687.24" y="280.98" width="11.29" height="10.67"/>
<rect class="b" x="732.4" y="280.98" width="11.29" height="10.67"/>
<rect class="R" x="743.69" y="280.98" width="11.29" height="10.67"/>
<rect class="O" x="788.85" y="280.98" width="11.29" height="10.67"/>
<rect class="b" x="822.72" y="280.98" width="11.29" height="10.67"/>
<rect class="Y" x="879.17" y="280.98" width="11.29" height="10.67"/>
<rect class="b" x="924.33" y="280.98" width="11.29" height="10.67"/>
<rect class="B" x="935.62" y="280.98" width="11.29" height="10.67"/>
<rect class="R" x="621.4" y="291.65" width="9.39" height="10.45"/>
<rect class="b" x="630.79" y="291.65" width="11.29" height="10.45"/>
<rect class="O" x="642.08" y="291.65" width="22.58" height="10.45"/>
<rect class="O" x="687.24" y="291.65" width="11.29" height="10.45"/>
<rect class="R" x="721.11" y="291.65" width="11.29" height="10.45"/>
<rect class="O" x="732.4" y="291.65" width="11.29" height="10.45"/>
<rect class="R" x="743.69" y="291.65" width="11.29" height="10.45"/>
<rect class="b" x="777.56" y="291.65" width="11.29" height="10.45"/>
<rect class="B" x="788.85" y="291.65" width="22.58" height="10.45"/>
<rect class="O" x="822.72" y="291.65" width="11.29" height="10.45"/>
<rect class="b" x="856.59" y="291.65" width="22.58" height="10.45"/>
<rect class="O" x="969.49" y="291.65" width="11.29" height="10.45"/>
<rect class="R" x="980.78" y="291.65" width="22.58" height="10.45"/>
<rect class="O" x="621.4" y="302.1" width="9.39" height="10.45"/>
<rect class="B" x="630.79" y="302.1" width="11.29" height="10.45"/>
<rect class="R" x="687.24" y="302.1" width="11.29" height="10.45"/>
<rect class="B" x="743.69" y="302.1" width="11.29" height="10.45"/>
<rect class="b" x="777.56" y="302.1" width="11.29" height="10.45"/>
<rect class="O" x="788.85" y="302.1" width="11.29" height="10.45"/>
<rect class="B" x="800.14" y="302.1" width="11.29" height="10.45"/>
<rect class="O" x="811.43" y="302.1" width="11.29" height="10.45"/>
<rect class="C" x="822.72" y="302.1" width="11.29" height="10.45"/>
<rect class="b" x="856.59" y="302.1" width="11.29" height="10.45"/>
<rect class="b" x="879.17" y="302.1" width="11.29" height="10.45"/>
<rect class="B" x="924.33" y="302.1" width="11.29" height="10.45"/>
<rect class="B" x="958.2" y="302.1" width="11.29" height="10.45"/>
<rect class="b" x="980.78" y="302.1" width="11.29" height="10.45"/>
<rect class="B" x="992.07" y="302.1" width="11.29" height="10.45"/>
<rect class="R" x="1025.94" y="302.1" width="11.29" height="10.45"/>
<rect class="b" x="621.4" y="312.55" width="9.39" height="10.45"/>
<rect class="O" x="642.08" y="312.55" width="11.29" height="10.45"/>
<rect class="Y" x="653.37" y="312.55" width="11.29" height="10.45"/>
<rect class="O" x="709.82" y="312.55" width="11.29" height="10.45"/>
<rect class="O" x="732.4" y="312.55" width="11.29" height="10.45"/>
<rect class="b" x="743.69" y="312.55" width="11.29" height="10.45"/>
<rect class="b" x="788.85" y="312.55" width="22.58" height="10.45"/>
<rect class="O" x="834.01" y="312.55" width="11.29" height="10.45"/>
<rect class="R" x="867.88" y="312.55" width="11.29" height="10.45"/>
<rect class="R" x="969.49" y="312.55" width="11.29" height="10.45"/>
<rect class="R" x="992.07" y="312.55" width="11.29" height="10.45"/>
<rect class="O" x="653.37" y="323" width="11.29" height="10.45"/>
<rect class="B" x="732.4" y="323" width="11.29" height="10.45"/>
<rect class="b" x="901.75" y="323" width="11.29" height="10.45"/>
<rect class="O" x="969.49" y="323" width="11.29" height="10.45"/>
<rect class="R" x="980.78" y="323" width="11.29" height="10.45"/>
<rect class="R" x="642.08" y="333.45" width="11.29" height="10.45"/>
<rect class="b" x="732.4" y="333.45" width="22.58" height="10.45"/>
<rect class="b" x="822.72" y="333.45" width="11.29" height="10.45"/>
<rect class="R" x="621.4" y="343.9" width="9.39" height="10.45"/>
<rect class="b" x="630.79" y="343.9" width="11.29" height="10.45"/>
<rect class="O" x="653.37" y="343.9" width="11.29" height="10.45"/>
<rect class="C" x="732.4" y="343.9" width="11.29" height="10.45"/>
<rect class="b" x="754.98" y="343.9" width="11.29" height="10.45"/>
<rect class="b" x="777.56" y="343.9" width="11.29" height="10.45"/>
<rect class="B" x="788.85" y="343.9" width="11.29" height="10.45"/>
<rect class="R" x="800.14" y="343.9" width="22.58" height="10.45"/>
<rect class="C" x="867.88" y="343.9" width="11.29" height="10.45"/>
<rect class="b" x="901.75" y="343.9" width="11.29" height="10.45"/>
<rect class="b" x="946.91" y="343.9" width="11.29" height="10.45"/>
<rect class="B" x="621.4" y="354.35" width="9.39" height="10.45"/>
<rect class="C" x="630.79" y="354.35" width="11.29" height="10.45"/>
<rect class="O" x="642.08" y="354.35" width="11.29" height="10.45"/>
<rect class="Y" x="653.37" y="354.35" width="11.29" height="10.45"/>
<rect class="O" x="675.95" y="354.35" width="11.29" height="10.45"/>
<rect class="O" x="698.53" y="354.35" width="33.87" height="10.45"/>
<rect class="B" x="732.4" y="354.35" width="11.29" height="10.45"/>
<rect class="C" x="743.69" y="354.35" width="11.29" height="10.45"/>
<rect class="b" x="754.98" y="354.35" width="11.29" height="10.45"/>
<rect class="B" x="766.27" y="354.35" width="11.29" height="10.45"/>
<rect class="O" x="777.56" y="354.35" width="11.29" height="10.45"/>
<rect class="O" x="800.14" y="354.35" width="11.29" height="10.45"/>
<rect class="b" x="811.43" y="354.35" width="11.29" height="10.45"/>
<rect class="B" x="822.72" y="354.35" width="11.29" height="10.45"/>
<rect class="B" x="856.59" y="354.35" width="33.87" height="10.45"/>
<rect class="C" x="890.46" y="354.35" width="11.29" height="10.45"/>
<rect class="B" x="901.75" y="354.35" width="11.29" height="10.45"/>
<rect class="B" x="924.33" y="354.35" width="11.29" height="10.45"/>
<rect class="C" x="935.62" y="354.35" width="11.29" height="10.45"/>
<rect class="B" x="946.91" y="354.35" width="33.87" height="10.45"/>
<rect class="C" x="980.78" y="354.35" width="22.58" height="10.45"/>
<rect class="B" x="1003.36" y="354.35" width="11.29" height="10.45"/>
<rect class="O" x="1025.94" y="354.35" width="22.58" height="10.45"/>
<rect class="R" x="642.08" y="364.8" width="11.29" height="10.1"/>
<rect class="O" x="653.37" y="364.8" width="11.29" height="10.1"/>
<rect class="R" x="664.66" y="364.8" width="11.29" height="10.1"/>
<rect class="O" x="675.95" y="364.8" width="11.29" height="10.1"/>
<rect class="O" x="732.4" y="364.8" width="11.29" height="10.1"/>
<rect class="R" x="800.14" y="364.8" width="11.29" height="10.1"/>
<rect class="R" x="867.88" y="364.8" width="22.58" height="10.1"/>
<rect class="O" x="1037.23" y="364.8" width="11.29" height="10.1"/>
<rect class="O" x="630.79" y="374.9" width="22.58" height="11.42"/>
<rect class="Y" x="653.37" y="374.9" width="11.29" height="11.42"/>
<rect class="O" x="664.66" y="374.9" width="11.29" height="11.42"/>
<rect class="O" x="732.4" y="374.9" width="11.29" height="11.42"/>
<rect class="O" x="777.56" y="374.9" width="11.29" height="11.42"/>
<rect class="R" x="1025.94" y="374.9" width="11.29" height="11.42"/>
<rect class="O" x="630.79" y="386.32" width="11.29" height="10.42"/>
<rect class="O" x="732.4" y="386.32" width="11.29" height="10.42"/>
<rect class="R" x="834.01" y="386.32" width="11.29" height="10.42"/>
<rect class="O" x="1025.94" y="386.32" width="11.29" height="10.42"/>
<rect class="R" x="675.95" y="396.74" width="11.29" height="10.42"/>
<rect class="R" x="788.85" y="396.74" width="11.29" height="10.42"/>
<rect class="O" x="800.14" y="396.74" width="11.29" height="10.42"/>
<rect class="R" x="811.43" y="396.74" width="11.29" height="10.42"/>
<rect class="R" x="867.88" y="396.74" width="22.58" height="10.42"/>
<rect class="R" x="901.75" y="396.74" width="11.29" height="10.42"/>
<rect class="R" x="630.79" y="407.16" width="11.29" height="10.42"/>
<rect class="O" x="642.08" y="407.16" width="11.29" height="10.42"/>
<rect class="R" x="653.37" y="407.16" width="22.58" height="10.42"/>
<rect class="R" x="687.24" y="407.16" width="11.29" height="10.42"/>
<rect class="O" x="721.11" y="407.16" width="22.58" height="10.42"/>
<rect class="R" x="845.3" y="407.16" width="11.29" height="10.42"/>
<rect class="B" x="856.59" y="407.16" width="11.29" height="10.42"/>
<rect class="R" x="890.46" y="407.16" width="11.29" height="10.42"/>
<rect class="B" x="992.07" y="407.16" width="11.29" height="10.42"/>
<rect class="R" x="675.95" y="417.58" width="11.29" height="10.42"/>
<rect class="O" x="709.82" y="417.58" width="11.29" height="10.42"/>
<rect class="R" x="721.11" y="417.58" width="11.29" height="10.42"/>
<rect class="R" x="935.62" y="417.58" width="11.29" height="10.42"/>
<rect class="O" x="630.79" y="428" width="11.29" height="10.42"/>
<rect class="R" x="675.95" y="428" width="11.29" height="10.42"/>
<rect class="Y" x="709.82" y="428" width="11.29" height="10.42"/>
<rect class="O" x="721.11" y="428" width="11.29" height="10.42"/>
<rect class="Y" x="732.4" y="428" width="11.29" height="10.42"/>
<rect class="O" x="743.69" y="428" width="11.29" height="10.42"/>
<rect class="O" x="766.27" y="428" width="11.29" height="10.42"/>
<rect class="Y" x="777.56" y="428" width="11.29" height="10.42"/>
<rect class="O" x="800.14" y="428" width="22.58" height="10.42"/>
<rect class="R" x="822.72" y="428" width="11.29" height="10.42"/>
<rect class="O" x="834.01" y="428" width="22.58" height="10.42"/>
<rect class="O" x="867.88" y="428" width="45.16" height="10.42"/>
<rect class="Y" x="924.33" y="428" width="22.58" height="10.42"/>
<rect class="O" x="946.91" y="428" width="11.29" height="10.42"/>
<rect class="Y" x="969.49" y="428" width="11.29" height="10.42"/>
<rect class="O" x="980.78" y="428" width="11.29" height="10.42"/>
<rect class="R" x="992.07" y="428" width="11.29" height="10.42"/>
<rect class="O" x="1003.36" y="428" width="22.58" height="10.42"/>
<rect class="R" x="1025.94" y="428" width="11.29" height="10.42"/>
<rect class="O" x="1037.23" y="428" width="11.29" height="10.42"/>
<rect class="O" x="630.79" y="438.42" width="11.29" height="10.42"/>
<rect class="O" x="675.95" y="438.42" width="11.29" height="10.42"/>
<rect class="O" x="709.82" y="438.42" width="11.29" height="10.42"/>
<rect class="R" x="721.11" y="438.42" width="11.29" height="10.42"/>
<rect class="O" x="732.4" y="438.42" width="11.29" height="10.42"/>
<rect class="R" x="754.98" y="438.42" width="11.29" height="10.42"/>
<rect class="O" x="777.56" y="438.42" width="11.29" height="10.42"/>
<rect class="O" x="800.14" y="438.42" width="22.58" height="10.42"/>
<rect class="O" x="879.17" y="438.42" width="22.58" height="10.42"/>
<rect class="Y" x="924.33" y="438.42" width="22.58" height="10.42"/>
<rect class="R" x="980.78" y="438.42" width="11.29" height="10.42"/>
<rect class="O" x="992.07" y="438.42" width="11.29" height="10.42"/>
<rect class="O" x="1014.65" y="438.42" width="11.29" height="10.42"/>
<rect class="O" x="642.08" y="448.84" width="22.58" height="10.42"/>
<rect class="R" x="675.95" y="448.84" width="11.29" height="10.42"/>
<rect class="O" x="698.53" y="448.84" width="22.58" height="10.42"/>
<rect class="C" x="732.4" y="448.84" width="11.29" height="10.42"/>
<rect class="b" x="743.69" y="448.84" width="11.29" height="10.42"/>
<rect class="B" x="788.85" y="448.84" width="11.29" height="10.42"/>
<rect class="b" x="800.14" y="448.84" width="11.29" height="10.42"/>
<rect class="b" x="822.72" y="448.84" width="11.29" height="10.42"/>
<rect class="b" x="856.59" y="448.84" width="22.58" height="10.42"/>
<rect class="b" x="924.33" y="448.84" width="11.29" height="10.42"/>
<rect class="b" x="958.2" y="448.84" width="11.29" height="10.42"/>
<rect class="B" x="969.49" y="448.84" width="22.58" height="10.42"/>
<rect class="b" x="992.07" y="448.84" width="11.29" height="10.42"/>
<rect class="R" x="1037.23" y="448.84" width="11.29" height="10.42"/>
<rect class="B" x="732.4" y="459.26" width="11.29" height="7.44"/>
<rect class="R" x="743.69" y="459.26" width="11.29" height="7.44"/>
<rect class="b" x="777.56" y="459.26" width="11.29" height="7.44"/>
<rect class="O" x="788.85" y="459.26" width="11.29" height="7.44"/>
<rect class="R" x="800.14" y="459.26" width="11.29" height="7.44"/>
<rect class="O" x="811.43" y="459.26" width="11.29" height="7.44"/>
<rect class="R" x="822.72" y="459.26" width="11.29" height="7.44"/>
<rect class="O" x="867.88" y="459.26" width="11.29" height="7.44"/>
<rect class="R" x="1014.65" y="459.26" width="11.29" height="7.44"/>
<rect x="720.6" y="60.8" width="1.8" height="429.8" fill="#fff" shape-rendering="geometricPrecision"/>
<rect x="810" y="60.8" width="1.8" height="429.8" fill="#fff" shape-rendering="geometricPrecision"/>
<rect x="923.4" y="60.8" width="1.8" height="429.8" fill="#fff" shape-rendering="geometricPrecision"/>
<rect x="596.1" y="185.9" width="462.7" height="1.8" fill="#fff" shape-rendering="geometricPrecision"/>
<rect x="596.1" y="290.1" width="462.7" height="1.8" fill="#fff" shape-rendering="geometricPrecision"/>
<rect x="596.1" y="373.15" width="462.7" height="1.8" fill="#fff" shape-rendering="geometricPrecision"/>
<text class="cl" transform="translate(676.4 496.9) rotate(-90) scale(0.948 1)" text-anchor="end">Limbic</text>
<text class="cl" transform="translate(771.7 496.9) rotate(-90) scale(0.948 1)" text-anchor="end">DMN</text>
<text class="cl" transform="translate(833.8 496.9) rotate(-90) scale(0.948 1)" text-anchor="end">FPTC</text>
<text class="cl" transform="translate(873.1 496.9) rotate(-90) scale(0.948 1)" text-anchor="end">Salience</text>
<text class="cl" transform="translate(913.4 496.9) rotate(-90) scale(0.948 1)" text-anchor="end">COTC</text>
<text class="cl" transform="translate(941.1 496.9) rotate(-90) scale(0.948 1)" text-anchor="end">Somatomotor</text>
<text class="cl" transform="translate(958.7 496.9) rotate(-90) scale(0.948 1)" text-anchor="end">Auditory</text>
<text class="cl" transform="translate(991.7 496.9) rotate(-90) scale(0.948 1)" text-anchor="end">Visual</text>
<text class="cl" transform="translate(1026.2 496.9) rotate(-90) scale(0.948 1)" text-anchor="end">Cerebellum</text>
<text class="cl" transform="translate(1048.6 496.9) rotate(-90) scale(0.948 1)" text-anchor="end">Brainstem</text>
</g>
<g id="panel-c">
<text class="pl" transform="translate(1083.3 30) scale(1.015 1)">c</text>
<text class="ti" transform="translate(1336.15 46.3) scale(0.997 1)" text-anchor="middle">Subgroup 3</text>
<rect x="1110.6" y="61" width="15" height="31.53" fill="#46267a"/>
<rect x="1110.6" y="92.53" width="15" height="10.51" fill="#6a2a7c"/>
<rect x="1110.6" y="103.04" width="15" height="52.55" fill="#b93b77"/>
<rect x="1110.6" y="155.59" width="15" height="10.51" fill="#ef6a9a"/>
<rect x="1110.6" y="166.1" width="15" height="21.4" fill="#f8a53e"/>
<rect x="1110.6" y="187.5" width="15" height="31.62" fill="#f0e45c"/>
<rect x="1110.6" y="219.12" width="15" height="41.24" fill="#4bbd97"/>
<rect x="1110.6" y="260.36" width="15" height="31.29" fill="#1499d6"/>
<rect x="1110.6" y="291.65" width="15" height="83.25" fill="#5461b1"/>
<rect x="1110.6" y="374.9" width="15" height="91.8" fill="#4c39a0"/>
<rect x="1136" y="477.3" width="99.71" height="13.2" fill="#4c39a0"/>
<rect x="1235.71" y="477.3" width="90.32" height="13.2" fill="#5461b1"/>
<rect x="1326.03" y="477.3" width="33.87" height="13.2" fill="#1499d6"/>
<rect x="1359.9" y="477.3" width="45.16" height="13.2" fill="#4bbd97"/>
<rect x="1405.06" y="477.3" width="33.87" height="13.2" fill="#f0e45c"/>
<rect x="1438.93" y="477.3" width="22.58" height="13.2" fill="#f8a53e"/>
<rect x="1461.51" y="477.3" width="11.29" height="13.2" fill="#ef6a9a"/>
<rect x="1472.8" y="477.3" width="56.45" height="13.2" fill="#b93b77"/>
<rect x="1529.25" y="477.3" width="11.29" height="13.2" fill="#6a2a7c"/>
<rect x="1540.54" y="477.3" width="32.86" height="13.2" fill="#46267a"/>
<path d="M1110.7 466.7V490.6H1136.1" fill="none" stroke="#b8b8b8" stroke-width="0.8"/>
<rect x="1136" y="60.8" width="437.4" height="405.9" fill="#000"/>
<rect class="O" x="1551.83" y="61" width="11.29" height="10.51"/>
<rect class="R" x="1156.68" y="71.51" width="11.29" height="10.51"/>
<rect class="O" x="1167.97" y="71.51" width="11.29" height="10.51"/>
<rect class="R" x="1190.55" y="71.51" width="11.29" height="10.51"/>
<rect class="O" x="1213.13" y="71.51" width="11.29" height="10.51"/>
<rect class="R" x="1247" y="71.51" width="11.29" height="10.51"/>
<rect class="R" x="1326.03" y="71.51" width="11.29" height="10.51"/>
<rect class="Y" x="1359.9" y="71.51" width="11.29" height="10.51"/>
<rect class="O" x="1382.48" y="71.51" width="11.29" height="10.51"/>
<rect class="R" x="1393.77" y="71.51" width="22.58" height="10.51"/>
<rect class="O" x="1416.35" y="71.51" width="11.29" height="10.51"/>
<rect class="R" x="1450.22" y="71.51" width="11.29" height="10.51"/>
<rect class="O" x="1563.12" y="71.51" width="10.28" height="10.51"/>
<rect class="R" x="1382.48" y="82.02" width="22.58" height="10.51"/>
<rect class="O" x="1405.06" y="82.02" width="22.58" height="10.51"/>
<rect class="R" x="1450.22" y="82.02" width="11.29" height="10.51"/>
<rect class="B" x="1247" y="92.53" width="11.29" height="10.51"/>
<rect class="C" x="1258.29" y="92.53" width="11.29" height="10.51"/>
<rect class="B" x="1280.87" y="92.53" width="22.58" height="10.51"/>
<rect class="B" x="1337.32" y="92.53" width="11.29" height="10.51"/>
<rect class="R" x="1450.22" y="92.53" width="11.29" height="10.51"/>
<rect class="b" x="1472.8" y="92.53" width="11.29" height="10.51"/>
<rect class="B" x="1484.09" y="92.53" width="22.58" height="10.51"/>
<rect class="b" x="1506.67" y="92.53" width="22.58" height="10.51"/>
<rect class="R" x="1156.68" y="103.04" width="22.58" height="10.51"/>
<rect class="b" x="1247" y="103.04" width="22.58" height="10.51"/>
<rect class="O" x="1314.74" y="103.04" width="22.58" height="10.51"/>
<rect class="B" x="1337.32" y="103.04" width="11.29" height="10.51"/>
<rect class="C" x="1484.09" y="103.04" width="11.29" height="10.51"/>
<rect class="b" x="1495.38" y="103.04" width="11.29" height="10.51"/>
<rect class="B" x="1506.67" y="103.04" width="11.29" height="10.51"/>
<rect class="b" x="1529.25" y="103.04" width="11.29" height="10.51"/>
<rect class="R" x="1136" y="113.55" width="9.39" height="10.51"/>
<rect class="R" x="1167.97" y="113.55" width="11.29" height="10.51"/>
<rect class="R" x="1235.71" y="113.55" width="11.29" height="10.51"/>
<rect class="R" x="1303.45" y="113.55" width="11.29" height="10.51"/>
<rect class="O" x="1326.03" y="113.55" width="11.29" height="10.51"/>
<rect class="b" x="1337.32" y="113.55" width="11.29" height="10.51"/>
<rect class="R" x="1382.48" y="113.55" width="11.29" height="10.51"/>
<rect class="O" x="1393.77" y="113.55" width="11.29" height="10.51"/>
<rect class="R" x="1416.35" y="113.55" width="11.29" height="10.51"/>
<rect class="b" x="1450.22" y="113.55" width="11.29" height="10.51"/>
<rect class="b" x="1472.8" y="113.55" width="11.29" height="10.51"/>
<rect class="B" x="1484.09" y="113.55" width="22.58" height="10.51"/>
<rect class="B" x="1517.96" y="113.55" width="11.29" height="10.51"/>
<rect class="b" x="1529.25" y="113.55" width="11.29" height="10.51"/>
<rect class="B" x="1145.39" y="124.06" width="11.29" height="10.51"/>
<rect class="R" x="1167.97" y="124.06" width="11.29" height="10.51"/>
<rect class="R" x="1235.71" y="124.06" width="11.29" height="10.51"/>
<rect class="B" x="1247" y="124.06" width="22.58" height="10.51"/>
<rect class="B" x="1337.32" y="124.06" width="11.29" height="10.51"/>
<rect class="O" x="1393.77" y="124.06" width="11.29" height="10.51"/>
<rect class="B" x="1405.06" y="124.06" width="11.29" height="10.51"/>
<rect class="B" x="1438.93" y="124.06" width="22.58" height="10.51"/>
<rect class="b" x="1461.51" y="124.06" width="22.58" height="10.51"/>
<rect class="B" x="1484.09" y="124.06" width="33.87" height="10.51"/>
<rect class="b" x="1517.96" y="124.06" width="11.29" height="10.51"/>
<rect class="B" x="1529.25" y="124.06" width="11.29" height="10.51"/>
<rect class="b" x="1213.13" y="134.57" width="11.29" height="10.51"/>
<rect class="O" x="1235.71" y="134.57" width="11.29" height="10.51"/>
<rect class="B" x="1247" y="134.57" width="11.29" height="10.51"/>
<rect class="B" x="1337.32" y="134.57" width="11.29" height="10.51"/>
<rect class="R" x="1382.48" y="134.57" width="11.29" height="10.51"/>
<rect class="O" x="1393.77" y="134.57" width="11.29" height="10.51"/>
<rect class="b" x="1405.06" y="134.57" width="11.29" height="10.51"/>
<rect class="C" x="1438.93" y="134.57" width="11.29" height="10.51"/>
<rect class="B" x="1450.22" y="134.57" width="22.58" height="10.51"/>
<rect class="B" x="1495.38" y="134.57" width="22.58" height="10.51"/>
<rect class="C" x="1517.96" y="134.57" width="11.29" height="10.51"/>
<rect class="B" x="1529.25" y="134.57" width="11.29" height="10.51"/>
<rect class="R" x="1167.97" y="145.08" width="11.29" height="10.51"/>
<rect class="R" x="1190.55" y="145.08" width="11.29" height="10.51"/>
<rect class="O" x="1235.71" y="145.08" width="11.29" height="10.51"/>
<rect class="B" x="1247" y="145.08" width="11.29" height="10.51"/>
<rect class="b" x="1292.16" y="145.08" width="11.29" height="10.51"/>
<rect class="R" x="1303.45" y="145.08" width="11.29" height="10.51"/>
<rect class="O" x="1314.74" y="145.08" width="11.29" height="10.51"/>
<rect class="O" x="1382.48" y="145.08" width="22.58" height="10.51"/>
<rect class="b" x="1461.51" y="145.08" width="22.58" height="10.51"/>
<rect class="b" x="1495.38" y="145.08" width="22.58" height="10.51"/>
<rect class="b" x="1529.25" y="145.08" width="11.29" height="10.51"/>
<rect class="O" x="1156.68" y="155.59" width="11.29" height="10.51"/>
<rect class="Y" x="1167.97" y="155.59" width="11.29" height="10.51"/>
<rect class="O" x="1190.55" y="155.59" width="11.29" height="10.51"/>
<rect class="C" x="1247" y="155.59" width="11.29" height="10.51"/>
<rect class="B" x="1258.29" y="155.59" width="11.29" height="10.51"/>
<rect class="b" x="1292.16" y="155.59" width="11.29" height="10.51"/>
<rect class="O" x="1314.74" y="155.59" width="11.29" height="10.51"/>
<rect class="b" x="1371.19" y="155.59" width="11.29" height="10.51"/>
<rect class="O" x="1382.48" y="155.59" width="22.58" height="10.51"/>
<rect class="R" x="1405.06" y="155.59" width="11.29" height="10.51"/>
<rect class="O" x="1416.35" y="155.59" width="11.29" height="10.51"/>
<rect class="B" x="1438.93" y="155.59" width="11.29" height="10.51"/>
<rect class="b" x="1472.8" y="155.59" width="11.29" height="10.51"/>
<rect class="B" x="1484.09" y="155.59" width="11.29" height="10.51"/>
<rect class="b" x="1495.38" y="155.59" width="11.29" height="10.51"/>
<rect class="O" x="1156.68" y="166.1" width="22.58" height="10.51"/>
<rect class="O" x="1190.55" y="166.1" width="11.29" height="10.51"/>
<rect class="B" x="1247" y="166.1" width="56.45" height="10.51"/>
<rect class="b" x="1303.45" y="166.1" width="22.58" height="10.51"/>
<rect class="b" x="1337.32" y="166.1" width="11.29" height="10.51"/>
<rect class="R" x="1382.48" y="166.1" width="22.58" height="10.51"/>
<rect class="B" x="1405.06" y="166.1" width="11.29" height="10.51"/>
<rect class="O" x="1416.35" y="166.1" width="11.29" height="10.51"/>
<rect class="B" x="1438.93" y="166.1" width="22.58" height="10.51"/>
<rect class="B" x="1484.09" y="166.1" width="22.58" height="10.51"/>
<rect class="b" x="1506.67" y="166.1" width="11.29" height="10.51"/>
<rect class="R" x="1529.25" y="166.1" width="33.87" height="10.51"/>
<rect class="R" x="1136" y="176.61" width="9.39" height="10.89"/>
<rect class="R" x="1167.97" y="176.61" width="11.29" height="10.89"/>
<rect class="R" x="1190.55" y="176.61" width="11.29" height="10.89"/>
<rect class="B" x="1247" y="176.61" width="11.29" height="10.89"/>
<rect class="C" x="1258.29" y="176.61" width="11.29" height="10.89"/>
<rect class="B" x="1292.16" y="176.61" width="11.29" height="10.89"/>
<rect class="b" x="1326.03" y="176.61" width="22.58" height="10.89"/>
<rect class="R" x="1382.48" y="176.61" width="11.29" height="10.89"/>
<rect class="B" x="1450.22" y="176.61" width="22.58" height="10.89"/>
<rect class="C" x="1484.09" y="176.61" width="11.29" height="10.89"/>
<rect class="B" x="1495.38" y="176.61" width="11.29" height="10.89"/>
<rect class="O" x="1167.97" y="187.5" width="11.29" height="11"/>
<rect class="R" x="1382.48" y="187.5" width="11.29" height="11"/>
<rect class="O" x="1393.77" y="187.5" width="11.29" height="11"/>
<rect class="O" x="1145.39" y="198.5" width="11.29" height="10.31"/>
<rect class="Y" x="1156.68" y="198.5" width="22.58" height="10.31"/>
<rect class="Y" x="1190.55" y="198.5" width="11.29" height="10.31"/>
<rect class="O" x="1201.84" y="198.5" width="11.29" height="10.31"/>
<rect class="R" x="1224.42" y="198.5" width="11.29" height="10.31"/>
<rect class="O" x="1235.71" y="198.5" width="11.29" height="10.31"/>
<rect class="Y" x="1247" y="198.5" width="11.29" height="10.31"/>
<rect class="b" x="1258.29" y="198.5" width="11.29" height="10.31"/>
<rect class="R" x="1280.87" y="198.5" width="11.29" height="10.31"/>
<rect class="R" x="1303.45" y="198.5" width="11.29" height="10.31"/>
<rect class="O" x="1314.74" y="198.5" width="11.29" height="10.31"/>
<rect class="R" x="1326.03" y="198.5" width="11.29" height="10.31"/>
<rect class="O" x="1359.9" y="198.5" width="11.29" height="10.31"/>
<rect class="Y" x="1382.48" y="198.5" width="22.58" height="10.31"/>
<rect class="O" x="1416.35" y="198.5" width="11.29" height="10.31"/>
<rect class="O" x="1450.22" y="198.5" width="22.58" height="10.31"/>
<rect class="R" x="1506.67" y="198.5" width="11.29" height="10.31"/>
<rect class="O" x="1540.54" y="198.5" width="22.58" height="10.31"/>
<rect class="R" x="1167.97" y="208.81" width="11.29" height="10.31"/>
<rect class="R" x="1190.55" y="208.81" width="11.29" height="10.31"/>
<rect class="B" x="1247" y="208.81" width="11.29" height="10.31"/>
<rect class="B" x="1292.16" y="208.81" width="11.29" height="10.31"/>
<rect class="b" x="1303.45" y="208.81" width="11.29" height="10.31"/>
<rect class="B" x="1314.74" y="208.81" width="11.29" height="10.31"/>
<rect class="R" x="1326.03" y="208.81" width="11.29" height="10.31"/>
<rect class="b" x="1382.48" y="208.81" width="11.29" height="10.31"/>
<rect class="O" x="1393.77" y="208.81" width="11.29" height="10.31"/>
<rect class="B" x="1450.22" y="208.81" width="11.29" height="10.31"/>
<rect class="R" x="1461.51" y="208.81" width="11.29" height="10.31"/>
<rect class="b" x="1484.09" y="208.81" width="11.29" height="10.31"/>
<rect class="B" x="1495.38" y="208.81" width="11.29" height="10.31"/>
<rect class="O" x="1540.54" y="208.81" width="11.29" height="10.31"/>
<rect class="R" x="1551.83" y="208.81" width="11.29" height="10.31"/>
<rect class="O" x="1145.39" y="219.12" width="33.87" height="10.31"/>
<rect class="Y" x="1190.55" y="219.12" width="11.29" height="10.31"/>
<rect class="R" x="1201.84" y="219.12" width="11.29" height="10.31"/>
<rect class="R" x="1247" y="219.12" width="11.29" height="10.31"/>
<rect class="R" x="1280.87" y="219.12" width="11.29" height="10.31"/>
<rect class="R" x="1303.45" y="219.12" width="11.29" height="10.31"/>
<rect class="O" x="1314.74" y="219.12" width="22.58" height="10.31"/>
<rect class="O" x="1371.19" y="219.12" width="11.29" height="10.31"/>
<rect class="Y" x="1382.48" y="219.12" width="22.58" height="10.31"/>
<rect class="O" x="1405.06" y="219.12" width="11.29" height="10.31"/>
<rect class="Y" x="1416.35" y="219.12" width="11.29" height="10.31"/>
<rect class="O" x="1427.64" y="219.12" width="11.29" height="10.31"/>
<rect class="R" x="1450.22" y="219.12" width="11.29" height="10.31"/>
<rect class="O" x="1461.51" y="219.12" width="56.45" height="10.31"/>
<rect class="R" x="1540.54" y="219.12" width="22.58" height="10.31"/>
<rect class="O" x="1145.39" y="229.43" width="11.29" height="10.31"/>
<rect class="Y" x="1167.97" y="229.43" width="11.29" height="10.31"/>
<rect class="R" x="1179.26" y="229.43" width="11.29" height="10.31"/>
<rect class="O" x="1190.55" y="229.43" width="22.58" height="10.31"/>
<rect class="Y" x="1235.71" y="229.43" width="11.29" height="10.31"/>
<rect class="O" x="1247" y="229.43" width="11.29" height="10.31"/>
<rect class="b" x="1258.29" y="229.43" width="22.58" height="10.31"/>
<rect class="R" x="1280.87" y="229.43" width="11.29" height="10.31"/>
<rect class="O" x="1303.45" y="229.43" width="33.87" height="10.31"/>
<rect class="R" x="1371.19" y="229.43" width="11.29" height="10.31"/>
<rect class="O" x="1382.48" y="229.43" width="11.29" height="10.31"/>
<rect class="Y" x="1393.77" y="229.43" width="11.29" height="10.31"/>
<rect class="b" x="1405.06" y="229.43" width="11.29" height="10.31"/>
<rect class="Y" x="1416.35" y="229.43" width="11.29" height="10.31"/>
<rect class="R" x="1427.64" y="229.43" width="33.87" height="10.31"/>
<rect class="O" x="1461.51" y="229.43" width="22.58" height="10.31"/>
<rect class="R" x="1484.09" y="229.43" width="11.29" height="10.31"/>
<rect class="R" x="1506.67" y="229.43" width="11.29" height="10.31"/>
<rect class="R" x="1540.54" y="229.43" width="11.29" height="10.31"/>
<rect class="O" x="1551.83" y="229.43" width="11.29" height="10.31"/>
<rect class="b" x="1213.13" y="239.74" width="11.29" height="10.31"/>
<rect class="B" x="1247" y="239.74" width="11.29" height="10.31"/>
<rect class="O" x="1314.74" y="239.74" width="22.58" height="10.31"/>
<rect class="R" x="1382.48" y="239.74" width="11.29" height="10.31"/>
<rect class="O" x="1393.77" y="239.74" width="11.29" height="10.31"/>
<rect class="b" x="1461.51" y="239.74" width="11.29" height="10.31"/>
<rect class="R" x="1167.97" y="250.05" width="11.29" height="10.31"/>
<rect class="R" x="1190.55" y="250.05" width="11.29" height="10.31"/>
<rect class="R" x="1224.42" y="250.05" width="11.29" height="10.31"/>
<rect class="O" x="1235.71" y="250.05" width="11.29" height="10.31"/>
<rect class="R" x="1280.87" y="250.05" width="11.29" height="10.31"/>
<rect class="O" x="1416.35" y="250.05" width="11.29" height="10.31"/>
<rect class="Y" x="1551.83" y="250.05" width="11.29" height="10.31"/>
<rect class="b" x="1247" y="260.36" width="11.29" height="10.31"/>
<rect class="b" x="1258.29" y="270.67" width="11.29" height="10.31"/>
<rect class="b" x="1326.03" y="270.67" width="22.58" height="10.31"/>
<rect class="b" x="1438.93" y="270.67" width="22.58" height="10.31"/>
<rect class="B" x="1484.09" y="270.67" width="22.58" height="10.31"/>
<rect class="b" x="1506.67" y="270.67" width="11.29" height="10.31"/>
<rect class="B" x="1517.96" y="270.67" width="22.58" height="10.31"/>
<rect class="R" x="1136" y="280.98" width="9.39" height="10.67"/>
<rect class="b" x="1145.39" y="280.98" width="11.29" height="10.67"/>
<rect class="O" x="1167.97" y="280.98" width="11.29" height="10.67"/>
<rect class="R" x="1190.55" y="280.98" width="11.29" height="10.67"/>
<rect class="C" x="1247" y="280.98" width="11.29" height="10.67"/>
<rect class="B" x="1258.29" y="280.98" width="11.29" height="10.67"/>
<rect class="b" x="1303.45" y="280.98" width="11.29" height="10.67"/>
<rect class="O" x="1314.74" y="280.98" width="11.29" height="10.67"/>
<rect class="b" x="1337.32" y="280.98" width="11.29" height="10.67"/>
<rect class="O" x="1371.19" y="280.98" width="33.87" height="10.67"/>
<rect class="R" x="1405.06" y="280.98" width="22.58" height="10.67"/>
<rect class="b" x="1438.93" y="280.98" width="11.29" height="10.67"/>
<rect class="O" x="1506.67" y="280.98" width="22.58" height="10.67"/>
<rect class="R" x="1551.83" y="280.98" width="11.29" height="10.67"/>
<rect class="B" x="1136" y="291.65" width="9.39" height="10.45"/>
<rect class="R" x="1167.97" y="291.65" width="11.29" height="10.45"/>
<rect class="R" x="1247" y="291.65" width="11.29" height="10.45"/>
<rect class="b" x="1258.29" y="291.65" width="45.16" height="10.45"/>
<rect class="B" x="1303.45" y="291.65" width="22.58" height="10.45"/>
<rect class="O" x="1326.03" y="291.65" width="11.29" height="10.45"/>
<rect class="O" x="1371.19" y="291.65" width="33.87" height="10.45"/>
<rect class="B" x="1405.06" y="291.65" width="11.29" height="10.45"/>
<rect class="O" x="1416.35" y="291.65" width="11.29" height="10.45"/>
<rect class="b" x="1450.22" y="291.65" width="11.29" height="10.45"/>
<rect class="O" x="1461.51" y="291.65" width="22.58" height="10.45"/>
<rect class="O" x="1517.96" y="291.65" width="11.29" height="10.45"/>
<rect class="B" x="1156.68" y="302.1" width="11.29" height="10.45"/>
<rect class="O" x="1167.97" y="302.1" width="11.29" height="10.45"/>
<rect class="O" x="1190.55" y="302.1" width="22.58" height="10.45"/>
<rect class="b" x="1247" y="302.1" width="11.29" height="10.45"/>
<rect class="b" x="1269.58" y="302.1" width="11.29" height="10.45"/>
<rect class="b" x="1292.16" y="302.1" width="11.29" height="10.45"/>
<rect class="B" x="1314.74" y="302.1" width="11.29" height="10.45"/>
<rect class="b" x="1326.03" y="302.1" width="11.29" height="10.45"/>
<rect class="O" x="1382.48" y="302.1" width="11.29" height="10.45"/>
<rect class="R" x="1393.77" y="302.1" width="11.29" height="10.45"/>
<rect class="b" x="1405.06" y="302.1" width="11.29" height="10.45"/>
<rect class="R" x="1416.35" y="302.1" width="11.29" height="10.45"/>
<rect class="b" x="1450.22" y="302.1" width="11.29" height="10.45"/>
<rect class="R" x="1472.8" y="302.1" width="11.29" height="10.45"/>
<rect class="R" x="1506.67" y="302.1" width="11.29" height="10.45"/>
<rect class="B" x="1136" y="312.55" width="9.39" height="10.45"/>
<rect class="B" x="1167.97" y="312.55" width="11.29" height="10.45"/>
<rect class="R" x="1235.71" y="312.55" width="11.29" height="10.45"/>
<rect class="B" x="1247" y="312.55" width="11.29" height="10.45"/>
<rect class="B" x="1292.16" y="312.55" width="11.29" height="10.45"/>
<rect class="b" x="1303.45" y="312.55" width="22.58" height="10.45"/>
<rect class="B" x="1405.06" y="312.55" width="11.29" height="10.45"/>
<rect class="B" x="1438.93" y="312.55" width="22.58" height="10.45"/>
<rect class="b" x="1461.51" y="312.55" width="22.58" height="10.45"/>
<rect class="B" x="1529.25" y="312.55" width="11.29" height="10.45"/>
<rect class="B" x="1145.39" y="323" width="11.29" height="10.45"/>
<rect class="R" x="1156.68" y="323" width="11.29" height="10.45"/>
<rect class="O" x="1167.97" y="323" width="11.29" height="10.45"/>
<rect class="R" x="1190.55" y="323" width="11.29" height="10.45"/>
<rect class="B" x="1213.13" y="323" width="11.29" height="10.45"/>
<rect class="R" x="1247" y="323" width="11.29" height="10.45"/>
<rect class="b" x="1314.74" y="323" width="11.29" height="10.45"/>
<rect class="R" x="1359.9" y="323" width="11.29" height="10.45"/>
<rect class="R" x="1382.48" y="323" width="22.58" height="10.45"/>
<rect class="R" x="1416.35" y="323" width="11.29" height="10.45"/>
<rect class="B" x="1450.22" y="323" width="11.29" height="10.45"/>
<rect class="B" x="1529.25" y="323" width="11.29" height="10.45"/>
<rect class="b" x="1179.26" y="333.45" width="11.29" height="10.45"/>
<rect class="B" x="1247" y="333.45" width="11.29" height="10.45"/>
<rect class="b" x="1303.45" y="333.45" width="22.58" height="10.45"/>
<rect class="b" x="1382.48" y="333.45" width="11.29" height="10.45"/>
<rect class="B" x="1450.22" y="333.45" width="11.29" height="10.45"/>
<rect class="B" x="1145.39" y="343.9" width="11.29" height="10.45"/>
<rect class="b" x="1179.26" y="343.9" width="11.29" height="10.45"/>
<rect class="B" x="1247" y="343.9" width="11.29" height="10.45"/>
<rect class="b" x="1314.74" y="343.9" width="11.29" height="10.45"/>
<rect class="B" x="1326.03" y="343.9" width="11.29" height="10.45"/>
<rect class="b" x="1337.32" y="343.9" width="11.29" height="10.45"/>
<rect class="b" x="1382.48" y="343.9" width="11.29" height="10.45"/>
<rect class="b" x="1416.35" y="343.9" width="11.29" height="10.45"/>
<rect class="C" x="1438.93" y="343.9" width="11.29" height="10.45"/>
<rect class="B" x="1450.22" y="343.9" width="22.58" height="10.45"/>
<rect class="B" x="1495.38" y="343.9" width="11.29" height="10.45"/>
<rect class="b" x="1517.96" y="343.9" width="11.29" height="10.45"/>
<rect class="C" x="1529.25" y="343.9" width="11.29" height="10.45"/>
<rect class="b" x="1136" y="354.35" width="9.39" height="10.45"/>
<rect class="O" x="1145.39" y="354.35" width="11.29" height="10.45"/>
<rect class="O" x="1167.97" y="354.35" width="11.29" height="10.45"/>
<rect class="R" x="1190.55" y="354.35" width="11.29" height="10.45"/>
<rect class="O" x="1235.71" y="354.35" width="11.29" height="10.45"/>
<rect class="B" x="1247" y="354.35" width="33.87" height="10.45"/>
<rect class="R" x="1280.87" y="354.35" width="11.29" height="10.45"/>
<rect class="B" x="1292.16" y="354.35" width="11.29" height="10.45"/>
<rect class="b" x="1303.45" y="354.35" width="11.29" height="10.45"/>
<rect class="R" x="1314.74" y="354.35" width="11.29" height="10.45"/>
<rect class="C" x="1326.03" y="354.35" width="11.29" height="10.45"/>
<rect class="b" x="1348.61" y="354.35" width="11.29" height="10.45"/>
<rect class="B" x="1371.19" y="354.35" width="11.29" height="10.45"/>
<rect class="O" x="1382.48" y="354.35" width="11.29" height="10.45"/>
<rect class="R" x="1393.77" y="354.35" width="11.29" height="10.45"/>
<rect class="B" x="1405.06" y="354.35" width="11.29" height="10.45"/>
<rect class="Y" x="1416.35" y="354.35" width="11.29" height="10.45"/>
<rect class="B" x="1438.93" y="354.35" width="22.58" height="10.45"/>
<rect class="C" x="1461.51" y="354.35" width="11.29" height="10.45"/>
<rect class="B" x="1472.8" y="354.35" width="33.87" height="10.45"/>
<rect class="b" x="1517.96" y="354.35" width="11.29" height="10.45"/>
<rect class="B" x="1529.25" y="354.35" width="11.29" height="10.45"/>
<rect class="R" x="1551.83" y="354.35" width="11.29" height="10.45"/>
<rect class="R" x="1156.68" y="364.8" width="11.29" height="10.1"/>
<rect class="O" x="1167.97" y="364.8" width="11.29" height="10.1"/>
<rect class="R" x="1190.55" y="364.8" width="11.29" height="10.1"/>
<rect class="O" x="1247" y="364.8" width="11.29" height="10.1"/>
<rect class="R" x="1292.16" y="364.8" width="11.29" height="10.1"/>
<rect class="O" x="1359.9" y="364.8" width="11.29" height="10.1"/>
<rect class="Y" x="1382.48" y="364.8" width="11.29" height="10.1"/>
<rect class="O" x="1416.35" y="364.8" width="11.29" height="10.1"/>
<rect class="O" x="1472.8" y="364.8" width="22.58" height="10.1"/>
<rect class="R" x="1495.38" y="364.8" width="22.58" height="10.1"/>
<rect class="R" x="1359.9" y="374.9" width="11.29" height="11.42"/>
<rect class="R" x="1416.35" y="374.9" width="11.29" height="11.42"/>
<rect class="B" x="1280.87" y="386.32" width="11.29" height="10.42"/>
<rect class="b" x="1371.19" y="386.32" width="11.29" height="10.42"/>
<rect class="b" x="1484.09" y="386.32" width="11.29" height="10.42"/>
<rect class="O" x="1551.83" y="386.32" width="11.29" height="10.42"/>
<rect class="R" x="1145.39" y="396.74" width="11.29" height="10.42"/>
<rect class="O" x="1190.55" y="396.74" width="11.29" height="10.42"/>
<rect class="O" x="1303.45" y="396.74" width="11.29" height="10.42"/>
<rect class="O" x="1382.48" y="396.74" width="11.29" height="10.42"/>
<rect class="R" x="1393.77" y="396.74" width="11.29" height="10.42"/>
<rect class="O" x="1416.35" y="396.74" width="11.29" height="10.42"/>
<rect class="O" x="1145.39" y="407.16" width="11.29" height="10.42"/>
<rect class="Y" x="1156.68" y="407.16" width="22.58" height="10.42"/>
<rect class="Y" x="1190.55" y="407.16" width="11.29" height="10.42"/>
<rect class="O" x="1201.84" y="407.16" width="11.29" height="10.42"/>
<rect class="R" x="1235.71" y="407.16" width="22.58" height="10.42"/>
<rect class="R" x="1280.87" y="407.16" width="11.29" height="10.42"/>
<rect class="O" x="1303.45" y="407.16" width="11.29" height="10.42"/>
<rect class="R" x="1326.03" y="407.16" width="11.29" height="10.42"/>
<rect class="R" x="1359.9" y="407.16" width="11.29" height="10.42"/>
<rect class="O" x="1382.48" y="407.16" width="11.29" height="10.42"/>
<rect class="Y" x="1393.77" y="407.16" width="11.29" height="10.42"/>
<rect class="R" x="1405.06" y="407.16" width="11.29" height="10.42"/>
<rect class="Y" x="1416.35" y="407.16" width="11.29" height="10.42"/>
<rect class="R" x="1438.93" y="407.16" width="11.29" height="10.42"/>
<rect class="O" x="1450.22" y="407.16" width="22.58" height="10.42"/>
<rect class="R" x="1472.8" y="407.16" width="11.29" height="10.42"/>
<rect class="R" x="1551.83" y="407.16" width="11.29" height="10.42"/>
<rect class="b" x="1258.29" y="417.58" width="22.58" height="10.42"/>
<rect class="R" x="1382.48" y="417.58" width="11.29" height="10.42"/>
<rect class="O" x="1156.68" y="428" width="22.58" height="10.42"/>
<rect class="Y" x="1190.55" y="428" width="11.29" height="10.42"/>
<rect class="O" x="1235.71" y="428" width="22.58" height="10.42"/>
<rect class="O" x="1280.87" y="428" width="11.29" height="10.42"/>
<rect class="B" x="1292.16" y="428" width="11.29" height="10.42"/>
<rect class="O" x="1303.45" y="428" width="11.29" height="10.42"/>
<rect class="R" x="1314.74" y="428" width="11.29" height="10.42"/>
<rect class="O" x="1326.03" y="428" width="11.29" height="10.42"/>
<rect class="R" x="1359.9" y="428" width="11.29" height="10.42"/>
<rect class="Y" x="1382.48" y="428" width="11.29" height="10.42"/>
<rect class="O" x="1393.77" y="428" width="11.29" height="10.42"/>
<rect class="R" x="1405.06" y="428" width="11.29" height="10.42"/>
<rect class="Y" x="1416.35" y="428" width="11.29" height="10.42"/>
<rect class="O" x="1427.64" y="428" width="11.29" height="10.42"/>
<rect class="R" x="1438.93" y="428" width="11.29" height="10.42"/>
<rect class="O" x="1450.22" y="428" width="11.29" height="10.42"/>
<rect class="Y" x="1461.51" y="428" width="11.29" height="10.42"/>
<rect class="R" x="1472.8" y="428" width="11.29" height="10.42"/>
<rect class="R" x="1495.38" y="428" width="33.87" height="10.42"/>
<rect class="O" x="1551.83" y="428" width="11.29" height="10.42"/>
<rect class="O" x="1167.97" y="438.42" width="11.29" height="10.42"/>
<rect class="Y" x="1190.55" y="438.42" width="11.29" height="10.42"/>
<rect class="R" x="1235.71" y="438.42" width="11.29" height="10.42"/>
<rect class="R" x="1280.87" y="438.42" width="11.29" height="10.42"/>
<rect class="B" x="1303.45" y="438.42" width="11.29" height="10.42"/>
<rect class="O" x="1393.77" y="438.42" width="11.29" height="10.42"/>
<rect class="Y" x="1416.35" y="438.42" width="11.29" height="10.42"/>
<rect class="O" x="1450.22" y="438.42" width="22.58" height="10.42"/>
<rect class="R" x="1517.96" y="438.42" width="11.29" height="10.42"/>
<rect class="R" x="1551.83" y="438.42" width="11.29" height="10.42"/>
<rect class="O" x="1190.55" y="448.84" width="11.29" height="10.42"/>
<rect class="R" x="1201.84" y="448.84" width="11.29" height="10.42"/>
<rect class="O" x="1247" y="448.84" width="11.29" height="10.42"/>
<rect class="B" x="1258.29" y="448.84" width="11.29" height="10.42"/>
<rect class="B" x="1280.87" y="448.84" width="11.29" height="10.42"/>
<rect class="b" x="1326.03" y="448.84" width="11.29" height="10.42"/>
<rect class="O" x="1382.48" y="448.84" width="22.58" height="10.42"/>
<rect class="O" x="1416.35" y="448.84" width="11.29" height="10.42"/>
<rect class="b" x="1495.38" y="448.84" width="11.29" height="10.42"/>
<rect class="b" x="1247" y="459.26" width="11.29" height="7.44"/>
<rect class="B" x="1292.16" y="459.26" width="11.29" height="7.44"/>
<rect class="B" x="1314.74" y="459.26" width="11.29" height="7.44"/>
<rect class="R" x="1326.03" y="459.26" width="11.29" height="7.44"/>
<rect class="R" x="1438.93" y="459.26" width="11.29" height="7.44"/>
<rect class="R" x="1506.67" y="459.26" width="11.29" height="7.44"/>
<rect x="1235.2" y="60.8" width="1.8" height="429.8" fill="#fff" shape-rendering="geometricPrecision"/>
<rect x="1324.6" y="60.8" width="1.8" height="429.8" fill="#fff" shape-rendering="geometricPrecision"/>
<rect x="1438" y="60.8" width="1.8" height="429.8" fill="#fff" shape-rendering="geometricPrecision"/>
<rect x="1110.7" y="185.9" width="462.7" height="1.8" fill="#fff" shape-rendering="geometricPrecision"/>
<rect x="1110.7" y="290.1" width="462.7" height="1.8" fill="#fff" shape-rendering="geometricPrecision"/>
<rect x="1110.7" y="373.15" width="462.7" height="1.8" fill="#fff" shape-rendering="geometricPrecision"/>
<text class="cl" transform="translate(1191 496.9) rotate(-90) scale(0.948 1)" text-anchor="end">Limbic</text>
<text class="cl" transform="translate(1286.3 496.9) rotate(-90) scale(0.948 1)" text-anchor="end">DMN</text>
<text class="cl" transform="translate(1348.4 496.9) rotate(-90) scale(0.948 1)" text-anchor="end">FPTC</text>
<text class="cl" transform="translate(1387.7 496.9) rotate(-90) scale(0.948 1)" text-anchor="end">Salience</text>
<text class="cl" transform="translate(1428 496.9) rotate(-90) scale(0.948 1)" text-anchor="end">COTC</text>
<text class="cl" transform="translate(1455.7 496.9) rotate(-90) scale(0.948 1)" text-anchor="end">Somatomotor</text>
<text class="cl" transform="translate(1473.3 496.9) rotate(-90) scale(0.948 1)" text-anchor="end">Auditory</text>
<text class="cl" transform="translate(1506.3 496.9) rotate(-90) scale(0.948 1)" text-anchor="end">Visual</text>
<text class="cl" transform="translate(1540.8 496.9) rotate(-90) scale(0.948 1)" text-anchor="end">Cerebellum</text>
<text class="cl" transform="translate(1563.2 496.9) rotate(-90) scale(0.948 1)" text-anchor="end">Brainstem</text>
</g>
<g id="panel-d">
<text class="pl" transform="translate(1595 30) scale(1.055 1)">d</text>
<text class="ti" transform="translate(1868.05 46.3) scale(0.997 1)" text-anchor="middle">Subgroup 4</text>
<rect x="1625.15" y="61" width="15" height="31.53" fill="#46267a"/>
<rect x="1625.15" y="92.53" width="15" height="10.51" fill="#6a2a7c"/>
<rect x="1625.15" y="103.04" width="15" height="52.55" fill="#b93b77"/>
<rect x="1625.15" y="155.59" width="15" height="10.51" fill="#ef6a9a"/>
<rect x="1625.15" y="166.1" width="15" height="21.4" fill="#f8a53e"/>
<rect x="1625.15" y="187.5" width="15" height="31.62" fill="#f0e45c"/>
<rect x="1625.15" y="219.12" width="15" height="41.24" fill="#4bbd97"/>
<rect x="1625.15" y="260.36" width="15" height="31.29" fill="#1499d6"/>
<rect x="1625.15" y="291.65" width="15" height="83.25" fill="#5461b1"/>
<rect x="1625.15" y="374.9" width="15" height="91.8" fill="#4c39a0"/>
<rect x="1650.55" y="477.3" width="99.71" height="13.2" fill="#4c39a0"/>
<rect x="1750.26" y="477.3" width="90.32" height="13.2" fill="#5461b1"/>
<rect x="1840.58" y="477.3" width="33.87" height="13.2" fill="#1499d6"/>
<rect x="1874.45" y="477.3" width="45.16" height="13.2" fill="#4bbd97"/>
<rect x="1919.61" y="477.3" width="33.87" height="13.2" fill="#f0e45c"/>
<rect x="1953.48" y="477.3" width="22.58" height="13.2" fill="#f8a53e"/>
<rect x="1976.06" y="477.3" width="11.29" height="13.2" fill="#ef6a9a"/>
<rect x="1987.35" y="477.3" width="56.45" height="13.2" fill="#b93b77"/>
<rect x="2043.8" y="477.3" width="11.29" height="13.2" fill="#6a2a7c"/>
<rect x="2055.09" y="477.3" width="32.86" height="13.2" fill="#46267a"/>
<path d="M1625.25 466.7V490.6H1650.65" fill="none" stroke="#b8b8b8" stroke-width="0.8"/>
<rect x="1650.55" y="60.8" width="437.4" height="405.9" fill="#000"/>
<rect class="R" x="1650.55" y="61" width="9.39" height="10.51"/>
<rect class="O" x="1682.52" y="61" width="11.29" height="10.51"/>
<rect class="O" x="1750.26" y="61" width="11.29" height="10.51"/>
<rect class="O" x="1818" y="61" width="11.29" height="10.51"/>
<rect class="O" x="1897.03" y="61" width="11.29" height="10.51"/>
<rect class="R" x="1930.9" y="61" width="11.29" height="10.51"/>
<rect class="R" x="2021.22" y="61" width="11.29" height="10.51"/>
<rect class="O" x="2066.38" y="61" width="11.29" height="10.51"/>
<rect class="R" x="1671.23" y="71.51" width="11.29" height="10.51"/>
<rect class="Y" x="1682.52" y="71.51" width="11.29" height="10.51"/>
<rect class="R" x="1705.1" y="71.51" width="11.29" height="10.51"/>
<rect class="O" x="1727.68" y="71.51" width="22.58" height="10.51"/>
<rect class="Y" x="1750.26" y="71.51" width="11.29" height="10.51"/>
<rect class="O" x="1761.55" y="71.51" width="11.29" height="10.51"/>
<rect class="O" x="1829.29" y="71.51" width="11.29" height="10.51"/>
<rect class="O" x="1930.9" y="71.51" width="11.29" height="10.51"/>
<rect class="R" x="1953.48" y="71.51" width="11.29" height="10.51"/>
<rect class="R" x="2021.22" y="71.51" width="11.29" height="10.51"/>
<rect class="Y" x="2055.09" y="71.51" width="11.29" height="10.51"/>
<rect class="O" x="2077.67" y="71.51" width="10.28" height="10.51"/>
<rect class="Y" x="1682.52" y="82.02" width="11.29" height="10.51"/>
<rect class="R" x="1761.55" y="82.02" width="11.29" height="10.51"/>
<rect class="O" x="1930.9" y="82.02" width="11.29" height="10.51"/>
<rect class="Y" x="2066.38" y="82.02" width="11.29" height="10.51"/>
<rect class="Y" x="1682.52" y="92.53" width="11.29" height="10.51"/>
<rect class="B" x="1693.81" y="92.53" width="11.29" height="10.51"/>
<rect class="O" x="1750.26" y="92.53" width="11.29" height="10.51"/>
<rect class="O" x="1829.29" y="92.53" width="11.29" height="10.51"/>
<rect class="R" x="1851.87" y="92.53" width="11.29" height="10.51"/>
<rect class="O" x="1874.45" y="92.53" width="11.29" height="10.51"/>
<rect class="O" x="1919.61" y="92.53" width="11.29" height="10.51"/>
<rect class="R" x="1930.9" y="92.53" width="11.29" height="10.51"/>
<rect class="O" x="1964.77" y="92.53" width="11.29" height="10.51"/>
<rect class="R" x="2021.22" y="92.53" width="11.29" height="10.51"/>
<rect class="Y" x="1750.26" y="103.04" width="11.29" height="10.51"/>
<rect class="b" x="1885.74" y="103.04" width="11.29" height="10.51"/>
<rect class="R" x="1682.52" y="113.55" width="11.29" height="10.51"/>
<rect class="b" x="1693.81" y="113.55" width="11.29" height="10.51"/>
<rect class="Y" x="1750.26" y="113.55" width="11.29" height="10.51"/>
<rect class="R" x="1818" y="113.55" width="22.58" height="10.51"/>
<rect class="b" x="1908.32" y="113.55" width="11.29" height="10.51"/>
<rect class="R" x="2043.8" y="113.55" width="11.29" height="10.51"/>
<rect class="R" x="2066.38" y="113.55" width="21.57" height="10.51"/>
<rect class="b" x="1650.55" y="124.06" width="20.68" height="10.51"/>
<rect class="C" x="1693.81" y="124.06" width="11.29" height="10.51"/>
<rect class="b" x="1705.1" y="124.06" width="11.29" height="10.51"/>
<rect class="b" x="1761.55" y="124.06" width="11.29" height="10.51"/>
<rect class="B" x="1806.71" y="124.06" width="11.29" height="10.51"/>
<rect class="B" x="1897.03" y="124.06" width="22.58" height="10.51"/>
<rect class="b" x="1919.61" y="124.06" width="11.29" height="10.51"/>
<rect class="B" x="1930.9" y="124.06" width="11.29" height="10.51"/>
<rect class="C" x="1942.19" y="124.06" width="11.29" height="10.51"/>
<rect class="b" x="1964.77" y="124.06" width="22.58" height="10.51"/>
<rect class="B" x="1659.94" y="134.57" width="11.29" height="10.51"/>
<rect class="B" x="1693.81" y="134.57" width="22.58" height="10.51"/>
<rect class="Y" x="1750.26" y="134.57" width="11.29" height="10.51"/>
<rect class="b" x="1761.55" y="134.57" width="11.29" height="10.51"/>
<rect class="Y" x="1784.13" y="134.57" width="11.29" height="10.51"/>
<rect class="O" x="1829.29" y="134.57" width="11.29" height="10.51"/>
<rect class="R" x="1840.58" y="134.57" width="11.29" height="10.51"/>
<rect class="b" x="1885.74" y="134.57" width="11.29" height="10.51"/>
<rect class="C" x="1897.03" y="134.57" width="11.29" height="10.51"/>
<rect class="B" x="1908.32" y="134.57" width="11.29" height="10.51"/>
<rect class="b" x="1919.61" y="134.57" width="11.29" height="10.51"/>
<rect class="O" x="1930.9" y="134.57" width="11.29" height="10.51"/>
<rect class="B" x="1942.19" y="134.57" width="11.29" height="10.51"/>
<rect class="B" x="1976.06" y="134.57" width="11.29" height="10.51"/>
<rect class="R" x="1682.52" y="145.08" width="11.29" height="10.51"/>
<rect class="B" x="1693.81" y="145.08" width="11.29" height="10.51"/>
<rect class="b" x="1705.1" y="145.08" width="11.29" height="10.51"/>
<rect class="R" x="1750.26" y="145.08" width="11.29" height="10.51"/>
<rect class="B" x="1885.74" y="145.08" width="11.29" height="10.51"/>
<rect class="C" x="1897.03" y="145.08" width="11.29" height="10.51"/>
<rect class="b" x="1908.32" y="145.08" width="11.29" height="10.51"/>
<rect class="b" x="1659.94" y="155.59" width="11.29" height="10.51"/>
<rect class="O" x="1682.52" y="155.59" width="11.29" height="10.51"/>
<rect class="O" x="1738.97" y="155.59" width="11.29" height="10.51"/>
<rect class="b" x="1806.71" y="155.59" width="22.58" height="10.51"/>
<rect class="B" x="1885.74" y="155.59" width="22.58" height="10.51"/>
<rect class="b" x="1976.06" y="155.59" width="11.29" height="10.51"/>
<rect class="B" x="1998.64" y="155.59" width="11.29" height="10.51"/>
<rect class="b" x="2009.93" y="155.59" width="11.29" height="10.51"/>
<rect class="b" x="1650.55" y="166.1" width="9.39" height="10.51"/>
<rect class="O" x="1682.52" y="166.1" width="11.29" height="10.51"/>
<rect class="B" x="1693.81" y="166.1" width="11.29" height="10.51"/>
<rect class="b" x="1716.39" y="166.1" width="11.29" height="10.51"/>
<rect class="R" x="1750.26" y="166.1" width="11.29" height="10.51"/>
<rect class="b" x="1761.55" y="166.1" width="11.29" height="10.51"/>
<rect class="B" x="1772.84" y="166.1" width="22.58" height="10.51"/>
<rect class="b" x="1795.42" y="166.1" width="22.58" height="10.51"/>
<rect class="B" x="1818" y="166.1" width="11.29" height="10.51"/>
<rect class="R" x="1829.29" y="166.1" width="11.29" height="10.51"/>
<rect class="R" x="1851.87" y="166.1" width="11.29" height="10.51"/>
<rect class="C" x="1885.74" y="166.1" width="11.29" height="10.51"/>
<rect class="R" x="1897.03" y="166.1" width="11.29" height="10.51"/>
<rect class="R" x="1919.61" y="166.1" width="11.29" height="10.51"/>
<rect class="O" x="1930.9" y="166.1" width="11.29" height="10.51"/>
<rect class="b" x="2009.93" y="166.1" width="11.29" height="10.51"/>
<rect class="O" x="2043.8" y="166.1" width="11.29" height="10.51"/>
<rect class="O" x="1682.52" y="176.61" width="11.29" height="10.89"/>
<rect class="C" x="1693.81" y="176.61" width="11.29" height="10.89"/>
<rect class="O" x="1750.26" y="176.61" width="11.29" height="10.89"/>
<rect class="b" x="1761.55" y="176.61" width="11.29" height="10.89"/>
<rect class="b" x="1806.71" y="176.61" width="22.58" height="10.89"/>
<rect class="B" x="1829.29" y="176.61" width="11.29" height="10.89"/>
<rect class="R" x="2066.38" y="176.61" width="11.29" height="10.89"/>
<rect class="O" x="1682.52" y="187.5" width="11.29" height="11"/>
<rect class="B" x="1998.64" y="187.5" width="11.29" height="11"/>
<rect class="C" x="2009.93" y="187.5" width="11.29" height="11"/>
<rect class="O" x="1659.94" y="198.5" width="33.87" height="10.31"/>
<rect class="O" x="1705.1" y="198.5" width="11.29" height="10.31"/>
<rect class="R" x="1727.68" y="198.5" width="22.58" height="10.31"/>
<rect class="Y" x="1750.26" y="198.5" width="11.29" height="10.31"/>
<rect class="b" x="1772.84" y="198.5" width="11.29" height="10.31"/>
<rect class="R" x="1818" y="198.5" width="22.58" height="10.31"/>
<rect class="R" x="1897.03" y="198.5" width="11.29" height="10.31"/>
<rect class="Y" x="1908.32" y="198.5" width="11.29" height="10.31"/>
<rect class="O" x="1964.77" y="198.5" width="11.29" height="10.31"/>
<rect class="O" x="1998.64" y="198.5" width="11.29" height="10.31"/>
<rect class="B" x="2009.93" y="198.5" width="11.29" height="10.31"/>
<rect class="R" x="2043.8" y="198.5" width="11.29" height="10.31"/>
<rect class="O" x="2055.09" y="198.5" width="22.58" height="10.31"/>
<rect class="R" x="2077.67" y="198.5" width="10.28" height="10.31"/>
<rect class="O" x="1682.52" y="208.81" width="11.29" height="10.31"/>
<rect class="B" x="1693.81" y="208.81" width="11.29" height="10.31"/>
<rect class="R" x="1705.1" y="208.81" width="11.29" height="10.31"/>
<rect class="R" x="1738.97" y="208.81" width="11.29" height="10.31"/>
<rect class="b" x="1761.55" y="208.81" width="11.29" height="10.31"/>
<rect class="R" x="1795.42" y="208.81" width="11.29" height="10.31"/>
<rect class="R" x="1829.29" y="208.81" width="11.29" height="10.31"/>
<rect class="B" x="1885.74" y="208.81" width="11.29" height="10.31"/>
<rect class="R" x="1897.03" y="208.81" width="33.87" height="10.31"/>
<rect class="R" x="1964.77" y="208.81" width="11.29" height="10.31"/>
<rect class="b" x="1998.64" y="208.81" width="22.58" height="10.31"/>
<rect class="O" x="2043.8" y="208.81" width="11.29" height="10.31"/>
<rect class="R" x="1682.52" y="219.12" width="11.29" height="10.31"/>
<rect class="B" x="1693.81" y="219.12" width="11.29" height="10.31"/>
<rect class="O" x="1705.1" y="219.12" width="11.29" height="10.31"/>
<rect class="b" x="1761.55" y="219.12" width="11.29" height="10.31"/>
<rect class="B" x="1772.84" y="219.12" width="11.29" height="10.31"/>
<rect class="b" x="1795.42" y="219.12" width="11.29" height="10.31"/>
<rect class="B" x="1806.71" y="219.12" width="11.29" height="10.31"/>
<rect class="b" x="1818" y="219.12" width="11.29" height="10.31"/>
<rect class="B" x="1885.74" y="219.12" width="11.29" height="10.31"/>
<rect class="R" x="1897.03" y="219.12" width="11.29" height="10.31"/>
<rect class="O" x="1908.32" y="219.12" width="11.29" height="10.31"/>
<rect class="R" x="1919.61" y="219.12" width="11.29" height="10.31"/>
<rect class="Y" x="1930.9" y="219.12" width="11.29" height="10.31"/>
<rect class="b" x="1987.35" y="219.12" width="11.29" height="10.31"/>
<rect class="B" x="1998.64" y="219.12" width="22.58" height="10.31"/>
<rect class="b" x="2021.22" y="219.12" width="11.29" height="10.31"/>
<rect class="R" x="1682.52" y="229.43" width="11.29" height="10.31"/>
<rect class="B" x="1693.81" y="229.43" width="11.29" height="10.31"/>
<rect class="R" x="1738.97" y="229.43" width="22.58" height="10.31"/>
<rect class="B" x="1761.55" y="229.43" width="33.87" height="10.31"/>
<rect class="O" x="1818" y="229.43" width="22.58" height="10.31"/>
<rect class="b" x="1851.87" y="229.43" width="11.29" height="10.31"/>
<rect class="B" x="1885.74" y="229.43" width="11.29" height="10.31"/>
<rect class="R" x="1908.32" y="229.43" width="33.87" height="10.31"/>
<rect class="R" x="1964.77" y="229.43" width="11.29" height="10.31"/>
<rect class="B" x="1976.06" y="229.43" width="11.29" height="10.31"/>
<rect class="C" x="1987.35" y="229.43" width="22.58" height="10.31"/>
<rect class="B" x="2009.93" y="229.43" width="11.29" height="10.31"/>
<rect class="O" x="2077.67" y="229.43" width="10.28" height="10.31"/>
<rect class="b" x="1659.94" y="239.74" width="11.29" height="10.31"/>
<rect class="C" x="1693.81" y="239.74" width="11.29" height="10.31"/>
<rect class="B" x="1705.1" y="239.74" width="11.29" height="10.31"/>
<rect class="B" x="1727.68" y="239.74" width="11.29" height="10.31"/>
<rect class="B" x="1750.26" y="239.74" width="11.29" height="10.31"/>
<rect class="C" x="1761.55" y="239.74" width="11.29" height="10.31"/>
<rect class="B" x="1772.84" y="239.74" width="11.29" height="10.31"/>
<rect class="B" x="1818" y="239.74" width="45.16" height="10.31"/>
<rect class="B" x="1897.03" y="239.74" width="33.87" height="10.31"/>
<rect class="C" x="1964.77" y="239.74" width="11.29" height="10.31"/>
<rect class="B" x="1976.06" y="239.74" width="22.58" height="10.31"/>
<rect class="b" x="1998.64" y="239.74" width="11.29" height="10.31"/>
<rect class="b" x="2032.51" y="239.74" width="11.29" height="10.31"/>
<rect class="R" x="1682.52" y="250.05" width="11.29" height="10.31"/>
<rect class="O" x="1829.29" y="250.05" width="11.29" height="10.31"/>
<rect class="O" x="2043.8" y="250.05" width="11.29" height="10.31"/>
<rect class="B" x="1693.81" y="260.36" width="11.29" height="10.31"/>
<rect class="Y" x="1750.26" y="260.36" width="11.29" height="10.31"/>
<rect class="R" x="1650.55" y="270.67" width="9.39" height="10.31"/>
<rect class="B" x="1693.81" y="270.67" width="11.29" height="10.31"/>
<rect class="O" x="1750.26" y="270.67" width="11.29" height="10.31"/>
<rect class="b" x="1761.55" y="270.67" width="11.29" height="10.31"/>
<rect class="R" x="1806.71" y="270.67" width="11.29" height="10.31"/>
<rect class="b" x="1818" y="270.67" width="11.29" height="10.31"/>
<rect class="O" x="1829.29" y="270.67" width="11.29" height="10.31"/>
<rect class="B" x="1885.74" y="270.67" width="11.29" height="10.31"/>
<rect class="b" x="1897.03" y="270.67" width="11.29" height="10.31"/>
<rect class="R" x="1964.77" y="270.67" width="11.29" height="10.31"/>
<rect class="R" x="2043.8" y="270.67" width="11.29" height="10.31"/>
<rect class="O" x="1682.52" y="280.98" width="11.29" height="10.67"/>
<rect class="B" x="1693.81" y="280.98" width="11.29" height="10.67"/>
<rect class="O" x="1750.26" y="280.98" width="11.29" height="10.67"/>
<rect class="b" x="1761.55" y="280.98" width="11.29" height="10.67"/>
<rect class="O" x="1829.29" y="280.98" width="11.29" height="10.67"/>
<rect class="B" x="1885.74" y="280.98" width="11.29" height="10.67"/>
<rect class="R" x="1998.64" y="280.98" width="11.29" height="10.67"/>
<rect class="B" x="1650.55" y="291.65" width="9.39" height="10.45"/>
<rect class="B" x="1693.81" y="291.65" width="11.29" height="10.45"/>
<rect class="O" x="1750.26" y="291.65" width="11.29" height="10.45"/>
<rect class="B" x="1761.55" y="291.65" width="22.58" height="10.45"/>
<rect class="b" x="1784.13" y="291.65" width="11.29" height="10.45"/>
<rect class="B" x="1795.42" y="291.65" width="11.29" height="10.45"/>
<rect class="C" x="1806.71" y="291.65" width="11.29" height="10.45"/>
<rect class="b" x="1818" y="291.65" width="22.58" height="10.45"/>
<rect class="O" x="1840.58" y="291.65" width="22.58" height="10.45"/>
<rect class="O" x="1874.45" y="291.65" width="11.29" height="10.45"/>
<rect class="B" x="1885.74" y="291.65" width="11.29" height="10.45"/>
<rect class="O" x="1897.03" y="291.65" width="11.29" height="10.45"/>
<rect class="R" x="1919.61" y="291.65" width="22.58" height="10.45"/>
<rect class="B" x="1953.48" y="291.65" width="11.29" height="10.45"/>
<rect class="R" x="1964.77" y="291.65" width="11.29" height="10.45"/>
<rect class="O" x="1998.64" y="291.65" width="11.29" height="10.45"/>
<rect class="R" x="2021.22" y="291.65" width="11.29" height="10.45"/>
<rect class="O" x="2043.8" y="291.65" width="11.29" height="10.45"/>
<rect class="O" x="2066.38" y="291.65" width="11.29" height="10.45"/>
<rect class="B" x="1650.55" y="302.1" width="9.39" height="10.45"/>
<rect class="b" x="1659.94" y="302.1" width="11.29" height="10.45"/>
<rect class="B" x="1693.81" y="302.1" width="11.29" height="10.45"/>
<rect class="B" x="1761.55" y="302.1" width="11.29" height="10.45"/>
<rect class="B" x="1784.13" y="302.1" width="22.58" height="10.45"/>
<rect class="C" x="1806.71" y="302.1" width="11.29" height="10.45"/>
<rect class="b" x="1818" y="302.1" width="22.58" height="10.45"/>
<rect class="b" x="1851.87" y="302.1" width="11.29" height="10.45"/>
<rect class="B" x="1885.74" y="302.1" width="11.29" height="10.45"/>
<rect class="O" x="1897.03" y="302.1" width="11.29" height="10.45"/>
<rect class="b" x="1908.32" y="302.1" width="11.29" height="10.45"/>
<rect class="R" x="1930.9" y="302.1" width="11.29" height="10.45"/>
<rect class="b" x="1953.48" y="302.1" width="11.29" height="10.45"/>
<rect class="B" x="1964.77" y="302.1" width="11.29" height="10.45"/>
<rect class="b" x="1976.06" y="302.1" width="11.29" height="10.45"/>
<rect class="R" x="2021.22" y="302.1" width="11.29" height="10.45"/>
<rect class="O" x="2077.67" y="302.1" width="10.28" height="10.45"/>
<rect class="C" x="1650.55" y="312.55" width="9.39" height="10.45"/>
<rect class="b" x="1659.94" y="312.55" width="11.29" height="10.45"/>
<rect class="B" x="1693.81" y="312.55" width="11.29" height="10.45"/>
<rect class="C" x="1761.55" y="312.55" width="11.29" height="10.45"/>
<rect class="B" x="1784.13" y="312.55" width="33.87" height="10.45"/>
<rect class="C" x="1818" y="312.55" width="22.58" height="10.45"/>
<rect class="R" x="1851.87" y="312.55" width="11.29" height="10.45"/>
<rect class="B" x="1908.32" y="312.55" width="11.29" height="10.45"/>
<rect class="b" x="1953.48" y="312.55" width="33.87" height="10.45"/>
<rect class="B" x="2009.93" y="312.55" width="11.29" height="10.45"/>
<rect class="B" x="1659.94" y="323" width="11.29" height="10.45"/>
<rect class="C" x="1693.81" y="323" width="11.29" height="10.45"/>
<rect class="B" x="1761.55" y="323" width="11.29" height="10.45"/>
<rect class="b" x="1772.84" y="323" width="11.29" height="10.45"/>
<rect class="B" x="1806.71" y="323" width="33.87" height="10.45"/>
<rect class="b" x="1908.32" y="323" width="11.29" height="10.45"/>
<rect class="R" x="1919.61" y="323" width="11.29" height="10.45"/>
<rect class="b" x="1964.77" y="323" width="11.29" height="10.45"/>
<rect class="B" x="1650.55" y="333.45" width="9.39" height="10.45"/>
<rect class="O" x="1750.26" y="333.45" width="11.29" height="10.45"/>
<rect class="B" x="1761.55" y="333.45" width="11.29" height="10.45"/>
<rect class="B" x="1806.71" y="333.45" width="22.58" height="10.45"/>
<rect class="b" x="1829.29" y="333.45" width="11.29" height="10.45"/>
<rect class="B" x="1897.03" y="333.45" width="11.29" height="10.45"/>
<rect class="B" x="1964.77" y="333.45" width="11.29" height="10.45"/>
<rect class="Y" x="1998.64" y="333.45" width="11.29" height="10.45"/>
<rect class="b" x="1650.55" y="343.9" width="9.39" height="10.45"/>
<rect class="B" x="1682.52" y="343.9" width="22.58" height="10.45"/>
<rect class="b" x="1705.1" y="343.9" width="11.29" height="10.45"/>
<rect class="Y" x="1750.26" y="343.9" width="11.29" height="10.45"/>
<rect class="b" x="1795.42" y="343.9" width="11.29" height="10.45"/>
<rect class="B" x="1829.29" y="343.9" width="11.29" height="10.45"/>
<rect class="B" x="1885.74" y="343.9" width="33.87" height="10.45"/>
<rect class="b" x="1930.9" y="343.9" width="11.29" height="10.45"/>
<rect class="B" x="1964.77" y="343.9" width="11.29" height="10.45"/>
<rect class="C" x="1650.55" y="354.35" width="9.39" height="10.45"/>
<rect class="R" x="1659.94" y="354.35" width="11.29" height="10.45"/>
<rect class="b" x="1671.23" y="354.35" width="11.29" height="10.45"/>
<rect class="Y" x="1682.52" y="354.35" width="11.29" height="10.45"/>
<rect class="B" x="1693.81" y="354.35" width="11.29" height="10.45"/>
<rect class="O" x="1705.1" y="354.35" width="11.29" height="10.45"/>
<rect class="Y" x="1750.26" y="354.35" width="11.29" height="10.45"/>
<rect class="O" x="1761.55" y="354.35" width="11.29" height="10.45"/>
<rect class="B" x="1784.13" y="354.35" width="22.58" height="10.45"/>
<rect class="C" x="1806.71" y="354.35" width="11.29" height="10.45"/>
<rect class="B" x="1818" y="354.35" width="22.58" height="10.45"/>
<rect class="b" x="1840.58" y="354.35" width="22.58" height="10.45"/>
<rect class="C" x="1885.74" y="354.35" width="11.29" height="10.45"/>
<rect class="B" x="1897.03" y="354.35" width="11.29" height="10.45"/>
<rect class="b" x="1908.32" y="354.35" width="22.58" height="10.45"/>
<rect class="b" x="1953.48" y="354.35" width="22.58" height="10.45"/>
<rect class="b" x="1998.64" y="354.35" width="22.58" height="10.45"/>
<rect class="R" x="2055.09" y="354.35" width="11.29" height="10.45"/>
<rect class="O" x="2066.38" y="354.35" width="11.29" height="10.45"/>
<rect class="O" x="1682.52" y="364.8" width="11.29" height="10.1"/>
<rect class="O" x="1705.1" y="364.8" width="11.29" height="10.1"/>
<rect class="Y" x="1761.55" y="364.8" width="22.58" height="10.1"/>
<rect class="O" x="1784.13" y="364.8" width="11.29" height="10.1"/>
<rect class="O" x="1829.29" y="364.8" width="33.87" height="10.1"/>
<rect class="Y" x="1863.16" y="364.8" width="11.29" height="10.1"/>
<rect class="B" x="1885.74" y="364.8" width="11.29" height="10.1"/>
<rect class="R" x="1897.03" y="364.8" width="11.29" height="10.1"/>
<rect class="Y" x="1930.9" y="364.8" width="11.29" height="10.1"/>
<rect class="O" x="1953.48" y="364.8" width="11.29" height="10.1"/>
<rect class="R" x="1964.77" y="364.8" width="11.29" height="10.1"/>
<rect class="R" x="1987.35" y="364.8" width="11.29" height="10.1"/>
<rect class="Y" x="1998.64" y="364.8" width="11.29" height="10.1"/>
<rect class="Y" x="2021.22" y="364.8" width="22.58" height="10.1"/>
<rect class="O" x="2043.8" y="364.8" width="11.29" height="10.1"/>
<rect class="Y" x="2066.38" y="364.8" width="11.29" height="10.1"/>
<rect class="O" x="2077.67" y="364.8" width="10.28" height="10.1"/>
<rect class="R" x="1650.55" y="374.9" width="9.39" height="11.42"/>
<rect class="R" x="1897.03" y="374.9" width="11.29" height="11.42"/>
<rect class="R" x="1919.61" y="374.9" width="22.58" height="11.42"/>
<rect class="O" x="1976.06" y="374.9" width="11.29" height="11.42"/>
<rect class="O" x="2066.38" y="374.9" width="11.29" height="11.42"/>
<rect class="B" x="1885.74" y="386.32" width="11.29" height="10.42"/>
<rect class="R" x="1930.9" y="386.32" width="11.29" height="10.42"/>
<rect class="O" x="2066.38" y="386.32" width="11.29" height="10.42"/>
<rect class="b" x="1964.77" y="396.74" width="11.29" height="10.42"/>
<rect class="R" x="1682.52" y="407.16" width="11.29" height="10.42"/>
<rect class="R" x="1705.1" y="407.16" width="11.29" height="10.42"/>
<rect class="O" x="1750.26" y="407.16" width="22.58" height="10.42"/>
<rect class="b" x="1772.84" y="407.16" width="11.29" height="10.42"/>
<rect class="B" x="1885.74" y="407.16" width="11.29" height="10.42"/>
<rect class="O" x="1908.32" y="407.16" width="11.29" height="10.42"/>
<rect class="R" x="1919.61" y="407.16" width="11.29" height="10.42"/>
<rect class="O" x="1930.9" y="407.16" width="11.29" height="10.42"/>
<rect class="b" x="1987.35" y="407.16" width="11.29" height="10.42"/>
<rect class="B" x="1998.64" y="407.16" width="11.29" height="10.42"/>
<rect class="b" x="2009.93" y="407.16" width="11.29" height="10.42"/>
<rect class="R" x="2066.38" y="407.16" width="11.29" height="10.42"/>
<rect class="B" x="1761.55" y="417.58" width="22.58" height="10.42"/>
<rect class="C" x="1795.42" y="417.58" width="11.29" height="10.42"/>
<rect class="B" x="1806.71" y="417.58" width="67.74" height="10.42"/>
<rect class="C" x="1885.74" y="417.58" width="11.29" height="10.42"/>
<rect class="B" x="1897.03" y="417.58" width="33.87" height="10.42"/>
<rect class="C" x="1953.48" y="417.58" width="11.29" height="10.42"/>
<rect class="B" x="1964.77" y="417.58" width="11.29" height="10.42"/>
<rect class="B" x="1987.35" y="417.58" width="22.58" height="10.42"/>
<rect class="C" x="2009.93" y="417.58" width="11.29" height="10.42"/>
<rect class="b" x="2021.22" y="417.58" width="11.29" height="10.42"/>
<rect class="B" x="2043.8" y="417.58" width="11.29" height="10.42"/>
<rect class="R" x="1671.23" y="428" width="11.29" height="10.42"/>
<rect class="O" x="1682.52" y="428" width="11.29" height="10.42"/>
<rect class="R" x="1705.1" y="428" width="11.29" height="10.42"/>
<rect class="O" x="1750.26" y="428" width="11.29" height="10.42"/>
<rect class="Y" x="1761.55" y="428" width="11.29" height="10.42"/>
<rect class="B" x="1772.84" y="428" width="11.29" height="10.42"/>
<rect class="O" x="1840.58" y="428" width="11.29" height="10.42"/>
<rect class="R" x="1874.45" y="428" width="11.29" height="10.42"/>
<rect class="R" x="1897.03" y="428" width="22.58" height="10.42"/>
<rect class="O" x="1919.61" y="428" width="67.74" height="10.42"/>
<rect class="R" x="1987.35" y="428" width="11.29" height="10.42"/>
<rect class="R" x="2021.22" y="428" width="11.29" height="10.42"/>
<rect class="Y" x="2043.8" y="428" width="33.87" height="10.42"/>
<rect class="O" x="2077.67" y="428" width="10.28" height="10.42"/>
<rect class="R" x="1682.52" y="438.42" width="11.29" height="10.42"/>
<rect class="b" x="1761.55" y="438.42" width="11.29" height="10.42"/>
<rect class="O" x="1930.9" y="438.42" width="11.29" height="10.42"/>
<rect class="R" x="2066.38" y="438.42" width="11.29" height="10.42"/>
<rect class="B" x="1650.55" y="448.84" width="9.39" height="10.42"/>
<rect class="O" x="1659.94" y="448.84" width="11.29" height="10.42"/>
<rect class="R" x="1761.55" y="448.84" width="11.29" height="10.42"/>
<rect class="B" x="1795.42" y="448.84" width="11.29" height="10.42"/>
<rect class="b" x="1806.71" y="448.84" width="22.58" height="10.42"/>
<rect class="b" x="1885.74" y="448.84" width="11.29" height="10.42"/>
<rect class="O" x="1930.9" y="448.84" width="11.29" height="10.42"/>
<rect class="b" x="1976.06" y="448.84" width="11.29" height="10.42"/>
<rect class="B" x="1998.64" y="448.84" width="11.29" height="10.42"/>
<rect class="b" x="2009.93" y="448.84" width="11.29" height="10.42"/>
<rect class="O" x="1650.55" y="459.26" width="9.39" height="7.44"/>
<rect class="B" x="1659.94" y="459.26" width="11.29" height="7.44"/>
<rect class="R" x="1738.97" y="459.26" width="11.29" height="7.44"/>
<rect class="C" x="1761.55" y="459.26" width="11.29" height="7.44"/>
<rect class="b" x="1772.84" y="459.26" width="11.29" height="7.44"/>
<rect class="B" x="1784.13" y="459.26" width="11.29" height="7.44"/>
<rect class="C" x="1806.71" y="459.26" width="11.29" height="7.44"/>
<rect class="B" x="1818" y="459.26" width="22.58" height="7.44"/>
<rect class="R" x="1851.87" y="459.26" width="11.29" height="7.44"/>
<rect class="b" x="1964.77" y="459.26" width="11.29" height="7.44"/>
<rect class="b" x="2009.93" y="459.26" width="11.29" height="7.44"/>
<rect class="R" x="2077.67" y="459.26" width="10.28" height="7.44"/>
<rect x="1749.75" y="60.8" width="1.8" height="429.8" fill="#fff" shape-rendering="geometricPrecision"/>
<rect x="1839.15" y="60.8" width="1.8" height="429.8" fill="#fff" shape-rendering="geometricPrecision"/>
<rect x="1952.55" y="60.8" width="1.8" height="429.8" fill="#fff" shape-rendering="geometricPrecision"/>
<rect x="1625.25" y="185.9" width="462.7" height="1.8" fill="#fff" shape-rendering="geometricPrecision"/>
<rect x="1625.25" y="290.1" width="462.7" height="1.8" fill="#fff" shape-rendering="geometricPrecision"/>
<rect x="1625.25" y="373.15" width="462.7" height="1.8" fill="#fff" shape-rendering="geometricPrecision"/>
<text class="cl" transform="translate(1705.55 496.9) rotate(-90) scale(0.948 1)" text-anchor="end">Limbic</text>
<text class="cl" transform="translate(1800.85 496.9) rotate(-90) scale(0.948 1)" text-anchor="end">DMN</text>
<text class="cl" transform="translate(1862.95 496.9) rotate(-90) scale(0.948 1)" text-anchor="end">FPTC</text>
<text class="cl" transform="translate(1902.25 496.9) rotate(-90) scale(0.948 1)" text-anchor="end">Salience</text>
<text class="cl" transform="translate(1942.55 496.9) rotate(-90) scale(0.948 1)" text-anchor="end">COTC</text>
<text class="cl" transform="translate(1970.25 496.9) rotate(-90) scale(0.948 1)" text-anchor="end">Somatomotor</text>
<text class="cl" transform="translate(1987.85 496.9) rotate(-90) scale(0.948 1)" text-anchor="end">Auditory</text>
<text class="cl" transform="translate(2020.85 496.9) rotate(-90) scale(0.948 1)" text-anchor="end">Visual</text>
<text class="cl" transform="translate(2055.35 496.9) rotate(-90) scale(0.948 1)" text-anchor="end">Cerebellum</text>
<text class="cl" transform="translate(2077.75 496.9) rotate(-90) scale(0.948 1)" text-anchor="end">Brainstem</text>
</g>
<g id="colorbar">
<rect x="2139" y="81.8" width="23" height="35.73" fill="#f7ec1e"/>
<rect x="2139" y="117.23" width="23" height="35.73" fill="#f58220"/>
<rect x="2139" y="152.65" width="23" height="35.73" fill="#ed1c24"/>
<rect x="2139" y="188.08" width="23" height="35.73" fill="#c1272d"/>
<rect x="2139" y="223.51" width="23" height="35.73" fill="#8c1a1d"/>
<rect x="2139" y="258.94" width="23" height="35.73" fill="#231f20"/>
<rect x="2139" y="294.36" width="23" height="35.73" fill="#262d7e"/>
<rect x="2139" y="329.79" width="23" height="35.73" fill="#2c4199"/>
<rect x="2139" y="365.22" width="23" height="35.73" fill="#3959ab"/>
<rect x="2139" y="400.65" width="23" height="35.73" fill="#4379c0"/>
<rect x="2139" y="436.07" width="23" height="35.43" fill="#6ccbdd"/>
<rect x="2127.3" y="81.2" width="9" height="2.8" fill="#111"/>
<rect x="2127.3" y="178.4" width="9" height="2.8" fill="#111"/>
<rect x="2127.3" y="275.5" width="9" height="2.8" fill="#111"/>
<rect x="2127.3" y="372.6" width="9" height="2.8" fill="#111"/>
<rect x="2127.3" y="469.6" width="9" height="2.8" fill="#111"/>
<text class="cb" transform="translate(2120.7 89.3)" text-anchor="end">6</text>
<text class="cb" transform="translate(2119.9 284.9)" text-anchor="end">0</text>
<text class="cb" transform="translate(2122.8 475.3)" text-anchor="end">-6</text>
<text class="cbt" transform="translate(2142 62.2)" text-anchor="middle">t</text>
</g>
</svg></body></html>
